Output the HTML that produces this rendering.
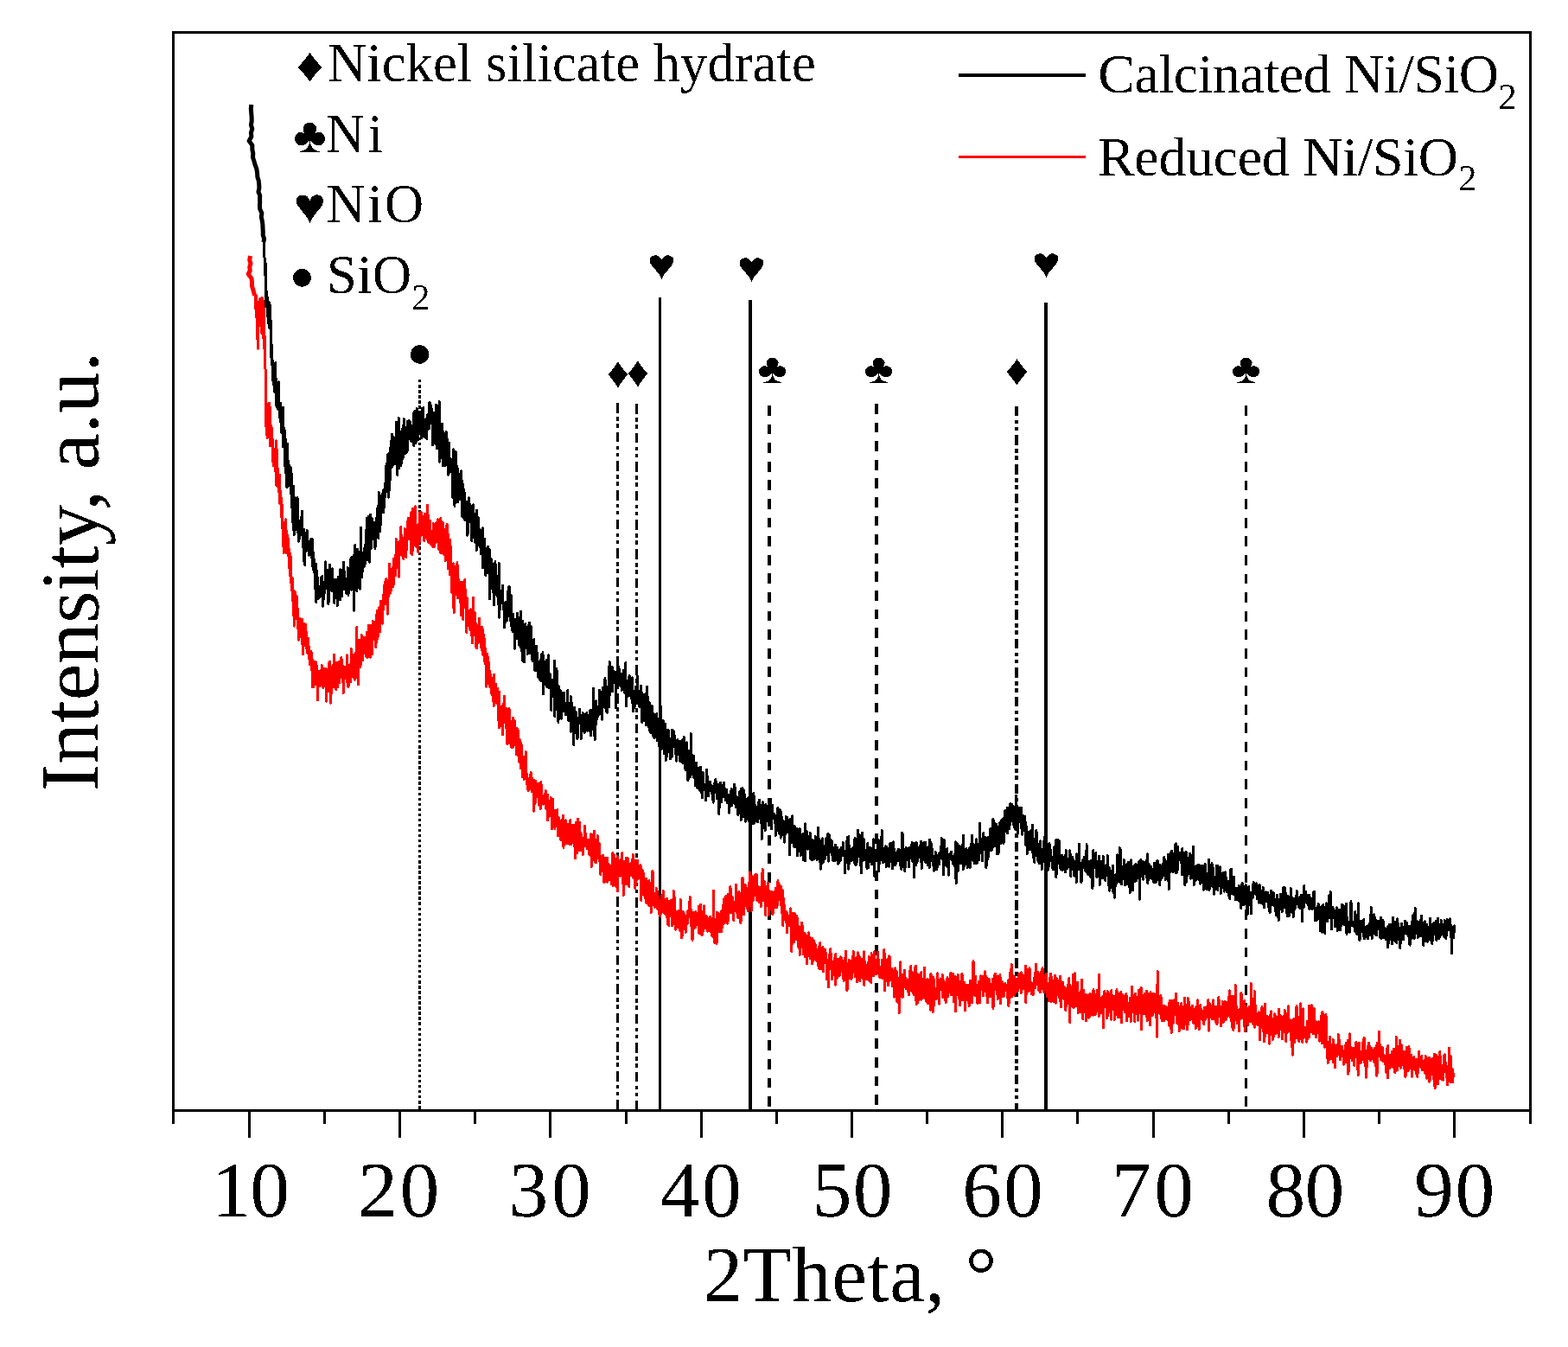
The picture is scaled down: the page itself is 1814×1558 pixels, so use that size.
<!DOCTYPE html>
<html><head><meta charset="utf-8"><title>XRD pattern</title><style>html,body{margin:0;padding:0;background:#fff;width:1814px;height:1558px;overflow:hidden}svg{display:block}</style></head><body>
<svg width="1814" height="1558" viewBox="0 0 1814 1558">
<rect width="100%" height="100%" fill="#fff"/>
<line x1="485.5" y1="439.06" x2="485.5" y2="1283" stroke="#000" stroke-width="3" stroke-dasharray="3.4 2.644" stroke-dashoffset="0" shape-rendering="crispEdges"/>
<line x1="714.5" y1="466.1" x2="714.5" y2="1283" stroke="#000" stroke-width="3" stroke-dasharray="11.6 4.4 4.5 3.5 4.5 5.1" stroke-dashoffset="0" shape-rendering="crispEdges"/>
<line x1="736.5" y1="467.0" x2="736.5" y2="1283" stroke="#000" stroke-width="3" stroke-dasharray="11.6 4.4 4.5 3.5 4.5 5.1" stroke-dashoffset="0" shape-rendering="crispEdges"/>
<line x1="1176" y1="469.8" x2="1176" y2="1283" stroke="#000" stroke-width="4" stroke-dasharray="11.6 4.4 4.5 3.5 4.5 5.1" stroke-dashoffset="0" shape-rendering="crispEdges"/>
<line x1="763.5" y1="344" x2="763.5" y2="1283" stroke="#000" stroke-width="3" shape-rendering="crispEdges"/>
<line x1="868" y1="347" x2="868" y2="1283" stroke="#000" stroke-width="4" shape-rendering="crispEdges"/>
<line x1="1210" y1="350" x2="1210" y2="1283" stroke="#000" stroke-width="4" shape-rendering="crispEdges"/>
<line x1="890" y1="469.0" x2="890" y2="1283" stroke="#000" stroke-width="4" stroke-dasharray="11.8 9.8" stroke-dashoffset="0" shape-rendering="crispEdges"/>
<line x1="1014" y1="466.9" x2="1014" y2="1283" stroke="#000" stroke-width="4" stroke-dasharray="11.8 9.8" stroke-dashoffset="0" shape-rendering="crispEdges"/>
<line x1="1441.5" y1="469.2" x2="1441.5" y2="1283" stroke="#000" stroke-width="3" stroke-dasharray="11.8 9.8" stroke-dashoffset="0" shape-rendering="crispEdges"/>
<path d="M289.6 296.0L288.7 300.5L290.0 305.0L288.7 309.0L289.3 313.0L287.2 317.0L291.0 322.0L291.5 326.5L291.5 331.0L293.2 336.5L294.6 342.0" fill="none" stroke="#ff0000" stroke-width="5" stroke-linejoin="round"/>
<path d="M294.6 342.0L294.9 342.3L295.2 342.4L295.5 345.2L295.8 357.0L296.1 341.0L296.4 360.6L296.7 366.6L297.0 353.3L297.3 353.4L297.6 372.3L297.9 386.5L298.2 403.2L298.5 391.5L298.8 398.4L299.1 369.9L299.4 362.2L299.7 349.1L300.0 354.3L300.3 362.3L300.6 367.4L300.9 345.7L301.2 372.2L301.5 359.6L301.8 352.0L302.2 349.7L302.5 385.1L302.8 360.5L303.1 346.0L303.4 344.6L303.7 380.1L304.1 352.0L304.4 381.3L304.7 390.7L305.0 348.7L305.3 402.5L305.6 388.5L305.9 383.1L306.2 395.8L306.5 415.8L306.8 419.2L307.1 429.5L307.4 438.5L307.7 487.4L308.0 494.0L308.3 499.5L308.6 490.2L308.9 502.7L309.2 506.5L309.5 490.3L309.8 493.7L310.1 491.2L310.4 492.1L310.7 497.3L311.0 466.4L311.3 485.4L311.6 497.3L311.9 466.3L312.2 476.3L312.5 515.9L312.8 484.3L313.1 493.4L313.4 505.6L313.7 496.5L314.0 493.3L314.3 499.3L314.6 502.1L314.9 502.4L315.2 514.0L315.5 533.9L315.8 520.4L316.1 538.4L316.4 529.5L316.7 532.8L317.0 531.8L317.3 522.9L317.6 534.0L317.9 534.7L318.2 519.2L318.5 544.5L318.8 544.5L319.1 543.9L319.4 533.9L319.7 509.8L320.0 562.1L320.3 544.6L320.6 520.1L320.9 556.6L321.2 541.5L321.5 560.1L321.8 551.9L322.1 568.7L322.4 559.1L322.7 561.2L323.0 561.5L323.3 577.8L323.6 549.7L323.9 583.1L324.2 580.1L324.5 567.8L324.8 577.6L325.1 575.2L325.4 584.4L325.7 598.2L326.0 581.3L326.3 601.7L326.6 607.1L326.9 606.4L327.2 620.7L327.5 603.8L327.8 615.8L328.1 639.4L328.4 611.4L328.7 611.2L329.0 614.8L329.3 623.8L329.6 611.0L329.9 617.3L330.2 600.9L330.5 611.3L330.8 613.5L331.1 613.7L331.4 624.2L331.7 639.7L332.0 628.3L332.3 618.5L332.6 639.0L332.9 639.6L333.2 622.2L333.5 642.5L333.8 629.3L334.1 636.2L334.4 636.5L334.7 656.8L335.0 638.6L335.3 646.2L335.6 653.8L335.9 665.6L336.2 669.0L336.5 644.5L336.8 674.5L337.1 667.4L337.4 681.6L337.7 683.4L338.0 668.0L338.3 678.3L338.6 677.9L338.9 689.3L339.2 708.1L339.5 691.5L339.8 684.5L340.1 724.2L340.4 683.8L340.7 697.2L341.0 698.6L341.3 685.3L341.6 711.3L341.9 716.1L342.2 704.1L342.5 707.3L342.8 706.3L343.1 688.9L343.4 713.9L343.7 697.5L344.0 702.1L344.3 719.3L344.6 726.7L344.9 706.7L345.2 731.7L345.5 740.3L345.8 722.6L346.1 720.9L346.4 725.4L346.7 719.4L347.0 715.3L347.3 734.1L347.6 736.2L347.9 723.0L348.2 725.4L348.5 724.0L348.8 724.3L349.1 721.9L349.4 716.1L349.8 745.0L350.1 730.8L350.4 736.2L350.8 757.0L351.1 730.8L351.5 743.8L351.8 721.7L352.2 730.7L352.5 746.7L352.8 736.1L353.2 722.9L353.5 722.2L353.9 744.6L354.2 730.3L354.6 749.6L354.9 746.0L355.2 740.3L355.5 744.5L355.8 755.2L356.1 748.1L356.4 738.0L356.7 754.1L357.0 747.4L357.3 750.1L357.6 760.6L357.9 759.0L358.2 768.3L358.5 755.6L358.8 753.7L359.1 756.3L359.4 765.8L359.7 753.2L360.0 759.2L360.3 754.5L360.6 756.1L360.9 763.9L361.2 794.4L361.5 763.2L361.8 771.4L362.1 770.4L362.4 768.2L362.7 771.4L363.0 794.2L363.3 769.8L363.6 791.9L363.9 781.8L364.2 765.4L364.5 768.8L364.8 771.8L365.1 765.5L365.4 791.8L365.7 784.3L366.0 786.4L366.3 769.4L366.7 786.7L367.1 775.6L367.5 809.5L367.9 781.3L368.2 785.8L368.6 787.6L369.0 777.8L369.4 779.1L369.8 779.4L370.2 793.8L370.6 776.2L371.0 782.9L371.4 788.7L371.8 780.3L372.2 769.5L372.7 771.4L373.1 780.1L373.6 773.8L374.0 795.6L374.4 784.8L374.9 784.3L375.3 773.1L375.8 790.4L376.2 780.4L376.6 773.6L377.1 777.1L377.5 811.1L378.0 777.3L378.4 774.4L378.9 797.1L379.3 792.4L379.7 780.8L380.2 799.5L380.6 767.4L381.1 778.5L381.5 765.5L381.9 799.4L382.4 784.5L382.8 813.2L383.3 789.3L383.7 789.5L384.1 771.4L384.6 770.8L385.0 778.7L385.5 794.3L385.9 772.4L386.3 757.3L386.8 793.7L387.2 794.4L387.7 773.8L388.1 789.0L388.5 796.7L389.0 797.3L389.4 766.5L389.9 784.8L390.3 775.4L390.7 794.7L391.1 784.6L391.6 769.7L392.0 784.3L392.4 789.5L392.8 765.1L393.2 767.0L393.6 774.4L394.0 778.4L394.4 775.2L394.8 760.6L395.2 763.4L395.6 780.4L396.0 785.3L396.4 770.4L396.8 782.1L397.3 801.3L397.7 777.5L398.1 774.7L398.5 771.5L398.9 784.7L399.3 781.8L399.7 781.8L400.1 774.1L400.4 782.5L400.8 781.9L401.1 775.0L401.4 789.2L401.7 757.8L402.1 783.0L402.4 772.9L402.7 783.3L403.0 794.8L403.4 773.1L403.7 769.8L404.0 771.1L404.3 786.6L404.6 787.8L405.0 771.5L405.3 776.4L405.6 789.0L405.9 774.0L406.3 750.4L406.7 757.9L407.0 761.4L407.4 771.1L407.8 759.8L408.2 781.8L408.5 760.2L408.9 783.3L409.3 757.5L409.7 780.1L410.1 766.5L410.4 780.3L410.8 786.2L411.2 783.5L411.6 775.1L412.0 754.2L412.3 753.1L412.7 725.5L413.1 778.6L413.4 775.8L413.8 772.6L414.2 747.3L414.5 791.7L414.9 751.8L415.2 769.1L415.6 740.0L416.0 751.2L416.3 772.0L416.7 769.3L417.0 744.4L417.4 755.5L417.8 769.0L418.1 734.2L418.4 763.8L418.8 736.4L419.1 761.1L419.5 750.2L419.8 764.0L420.1 746.0L420.5 747.3L420.8 746.6L421.1 739.0L421.5 746.2L421.8 737.0L422.2 741.7L422.5 755.5L422.8 743.3L423.2 758.9L423.5 754.1L423.8 755.0L424.2 731.5L424.5 749.0L424.9 760.4L425.2 753.6L425.5 756.8L425.9 759.7L426.2 723.7L426.5 747.5L426.9 746.7L427.2 737.4L427.6 723.8L427.9 740.3L428.2 736.1L428.6 760.2L428.9 752.2L429.2 731.5L429.6 723.4L429.9 725.3L430.3 733.9L430.6 725.4L430.9 756.4L431.2 718.7L431.6 731.0L431.9 733.1L432.2 735.7L432.5 719.3L432.8 726.9L433.2 731.1L433.5 732.2L433.8 720.9L434.1 723.5L434.5 729.0L434.8 748.3L435.1 711.1L435.4 732.8L435.8 742.4L436.1 706.5L436.4 738.9L436.7 737.6L437.0 720.9L437.3 730.5L437.6 735.6L437.9 715.5L438.2 719.1L438.5 702.9L438.8 706.4L439.1 714.4L439.4 711.6L439.7 730.7L440.0 708.1L440.3 695.5L440.6 719.3L440.9 718.7L441.2 711.7L441.5 704.4L441.8 695.8L442.1 696.6L442.4 721.2L442.7 711.5L443.0 702.6L443.3 705.4L443.6 695.4L443.9 687.7L444.2 692.0L444.5 696.0L444.8 676.3L445.1 677.6L445.4 673.3L445.7 687.3L446.0 698.9L446.3 674.8L446.6 676.1L446.9 669.6L447.2 682.0L447.5 672.4L447.8 673.6L448.1 671.5L448.4 710.2L448.7 681.5L449.0 673.7L449.3 675.0L449.6 689.5L449.9 689.6L450.2 680.1L450.5 652.5L450.8 686.4L451.1 686.3L451.4 681.7L451.7 677.0L452.0 671.2L452.3 683.5L452.6 664.7L452.9 679.7L453.2 660.7L453.5 660.8L453.8 659.2L454.1 656.8L454.4 656.6L454.7 670.5L455.0 679.1L455.3 651.1L455.6 646.2L455.9 672.5L456.2 652.6L456.5 658.9L456.8 656.4L457.1 664.5L457.4 642.1L457.7 665.4L458.0 660.2L458.3 623.5L458.6 646.8L458.9 643.2L459.2 651.3L459.5 645.0L459.8 635.8L460.1 639.7L460.4 647.0L460.7 642.4L461.0 639.4L461.3 667.2L461.6 646.4L462.0 626.1L462.3 640.3L462.6 642.2L462.9 625.8L463.3 638.4L463.6 626.3L463.9 609.2L464.3 639.3L464.6 642.1L464.9 641.4L465.2 631.6L465.6 625.7L465.9 635.0L466.2 636.7L466.6 642.0L466.9 646.4L467.2 639.5L467.5 622.2L467.9 627.9L468.2 611.1L468.5 636.0L468.9 633.7L469.2 640.5L469.5 631.7L469.9 644.4L470.3 616.9L470.7 628.9L471.0 621.6L471.4 621.6L471.8 602.7L472.2 614.6L472.6 599.3L473.0 618.8L473.3 614.0L473.7 623.6L474.1 599.8L474.5 615.0L474.9 617.8L475.3 592.8L475.6 639.7L476.0 625.5L476.4 610.2L476.8 641.6L477.2 634.9L477.6 588.6L477.9 614.4L478.3 610.1L478.7 617.8L479.1 605.5L479.5 613.4L479.9 617.1L480.2 585.8L480.6 617.0L481.0 631.9L481.4 616.1L481.7 627.9L482.1 632.7L482.4 616.7L482.8 617.5L483.1 617.2L483.5 606.7L483.8 638.8L484.2 616.3L484.5 617.3L484.9 621.6L485.2 627.4L485.6 592.7L485.9 596.2L486.3 609.8L486.6 614.6L487.0 594.2L487.3 592.7L487.7 619.1L488.0 619.0L488.4 607.3L488.7 607.7L489.1 604.0L489.4 597.9L489.8 602.0L490.1 615.0L490.5 611.2L490.8 625.6L491.2 598.4L491.5 594.3L491.9 622.2L492.2 604.2L492.6 612.0L493.0 616.4L493.4 601.1L493.8 598.0L494.2 620.0L494.6 584.2L495.0 624.7L495.3 596.0L495.7 627.5L496.1 621.8L496.5 621.1L496.9 624.5L497.3 620.6L497.7 602.6L498.1 629.4L498.5 621.3L498.9 625.7L499.3 618.8L499.7 617.6L500.1 632.1L500.4 632.0L500.8 623.1L501.2 605.5L501.6 608.4L502.0 607.1L502.3 632.5L502.7 624.8L503.1 619.3L503.5 616.4L503.8 609.0L504.2 627.4L504.6 604.7L505.0 606.7L505.4 626.8L505.7 623.9L506.1 615.2L506.5 600.8L506.9 601.2L507.2 627.1L507.6 621.8L508.0 635.6L508.4 612.5L508.7 617.6L509.1 607.6L509.5 639.2L509.9 599.4L510.2 627.5L510.6 639.9L511.0 609.3L511.4 603.8L511.8 609.4L512.1 604.7L512.5 626.5L512.9 621.5L513.3 612.0L513.6 620.0L514.0 642.0L514.4 621.1L514.8 619.7L515.1 648.3L515.5 614.5L515.8 621.0L516.1 645.8L516.4 629.9L516.7 607.8L517.0 621.8L517.3 606.5L517.6 627.2L517.9 640.2L518.2 617.9L518.5 657.6L518.8 655.7L519.1 651.6L519.4 634.6L519.7 645.2L520.0 652.9L520.3 659.2L520.6 664.5L520.9 624.5L521.2 643.4L521.5 639.4L521.8 650.7L522.1 658.7L522.4 685.2L522.7 657.9L523.0 671.4L523.3 663.2L523.6 662.9L523.9 685.3L524.2 651.9L524.5 674.2L524.8 691.9L525.1 709.0L525.4 662.6L525.7 658.4L526.0 655.4L526.3 666.4L526.6 672.2L526.9 673.2L527.2 687.5L527.5 671.0L527.8 679.5L528.1 656.7L528.4 669.4L528.7 676.4L529.0 650.7L529.3 681.4L529.6 691.4L529.9 682.6L530.2 685.1L530.5 683.4L530.8 670.0L531.1 685.7L531.4 679.3L531.7 688.0L532.0 688.6L532.3 690.1L532.6 673.6L532.9 689.3L533.2 711.6L533.5 702.6L533.9 689.3L534.2 684.1L534.5 705.3L534.8 694.1L535.1 673.6L535.4 690.2L535.7 716.3L536.0 676.7L536.3 698.3L536.6 689.2L537.0 698.0L537.3 694.5L537.6 689.7L537.9 670.1L538.2 698.9L538.5 702.5L538.8 701.2L539.1 690.8L539.4 696.8L539.7 731.3L540.1 692.1L540.4 702.3L540.7 692.0L541.0 705.0L541.3 711.3L541.6 723.5L541.9 712.4L542.2 710.5L542.5 715.5L542.8 718.7L543.2 712.2L543.5 713.1L543.8 728.6L544.1 706.1L544.4 714.3L544.7 704.9L545.1 710.3L545.4 734.7L545.7 709.3L546.1 724.3L546.4 743.9L546.7 725.7L547.0 718.1L547.4 711.4L547.7 691.0L548.0 710.5L548.4 711.4L548.7 734.3L549.0 731.8L549.3 708.8L549.7 732.1L550.0 717.8L550.3 747.6L550.7 744.1L551.0 735.2L551.3 723.3L551.6 749.6L552.0 739.8L552.3 743.8L552.6 737.2L553.0 728.5L553.3 741.6L553.6 723.2L553.9 743.0L554.3 736.4L554.6 715.3L554.9 741.2L555.3 735.6L555.6 732.8L555.9 737.5L556.2 748.9L556.5 727.4L556.8 729.3L557.1 751.8L557.4 746.5L557.7 725.1L558.0 748.0L558.3 727.8L558.6 757.1L558.9 753.4L559.2 756.9L559.5 734.3L559.8 744.2L560.1 764.7L560.4 739.2L560.7 762.9L561.0 755.4L561.3 760.8L561.6 750.6L561.9 768.4L562.2 767.2L562.5 773.8L562.8 794.1L563.1 763.8L563.4 768.4L563.7 756.5L564.0 790.4L564.3 767.1L564.6 781.5L564.9 760.4L565.2 772.0L565.5 783.2L565.8 783.0L566.1 775.4L566.4 790.4L566.7 782.5L567.0 794.7L567.3 780.9L567.6 792.5L567.9 780.7L568.2 802.2L568.5 788.6L568.8 790.5L569.1 784.4L569.4 804.0L569.7 795.3L570.0 792.1L570.3 811.1L570.6 788.2L570.9 809.6L571.2 816.7L571.5 780.6L571.8 812.1L572.1 809.1L572.4 806.3L572.7 808.9L573.0 791.5L573.3 812.2L573.6 809.9L573.9 790.9L574.2 806.6L574.5 795.7L574.8 811.6L575.1 801.0L575.4 813.3L575.7 796.4L576.0 807.5L576.3 809.7L576.6 812.8L576.9 829.2L577.2 842.0L577.5 800.3L577.8 828.2L578.1 816.3L578.4 817.0L578.7 817.6L579.0 820.3L579.3 821.9L579.6 833.3L579.9 839.2L580.2 829.6L580.5 826.9L580.8 833.8L581.1 832.7L581.4 849.6L581.7 818.9L582.0 814.8L582.3 828.3L582.6 835.5L582.9 830.4L583.2 836.1L583.5 805.1L583.8 826.3L584.1 828.1L584.4 820.8L584.8 829.5L585.1 834.1L585.5 841.6L585.8 827.1L586.2 819.3L586.5 843.0L586.9 860.6L587.2 841.1L587.6 841.2L587.9 829.2L588.3 843.2L588.6 859.1L589.0 819.8L589.3 853.7L589.7 820.9L590.0 860.1L590.4 853.2L590.7 841.0L591.1 848.2L591.4 864.2L591.8 834.1L592.1 859.9L592.5 853.8L592.9 847.8L593.2 864.5L593.6 830.4L593.9 848.0L594.3 836.5L594.6 849.8L595.0 856.8L595.3 833.4L595.7 855.0L596.0 855.5L596.4 846.3L596.7 852.4L597.1 866.0L597.4 857.8L597.8 873.0L598.1 843.6L598.5 842.6L598.8 871.1L599.1 844.1L599.4 873.9L599.7 861.4L600.0 870.3L600.3 860.2L600.6 876.9L600.9 881.4L601.2 881.4L601.5 874.7L601.8 855.8L602.1 882.5L602.4 874.2L602.7 889.0L603.0 858.9L603.3 881.8L603.6 873.3L603.9 879.1L604.2 890.3L604.5 891.0L604.8 899.0L605.1 889.6L605.4 891.8L605.7 890.6L606.0 875.7L606.3 901.4L606.6 881.8L606.9 886.4L607.2 898.1L607.5 887.2L607.8 890.7L608.1 869.7L608.4 888.6L608.7 887.1L609.0 893.1L609.3 906.3L609.7 897.9L610.1 899.8L610.4 902.9L610.8 913.3L611.1 914.5L611.5 907.8L611.9 901.0L612.2 913.9L612.6 901.4L612.9 903.1L613.3 908.9L613.7 900.7L614.0 894.6L614.4 893.5L614.7 904.1L615.1 910.3L615.5 915.4L615.8 900.4L616.2 911.7L616.6 910.2L616.9 905.5L617.3 938.2L617.6 903.4L618.0 902.8L618.4 913.9L618.7 929.6L619.1 909.3L619.5 928.1L619.8 903.1L620.2 910.2L620.6 912.8L621.0 912.5L621.4 916.3L621.7 915.0L622.1 914.4L622.5 906.3L622.9 922.8L623.2 918.4L623.6 921.0L624.0 931.5L624.4 924.7L624.7 922.3L625.1 935.3L625.5 915.8L625.9 904.2L626.2 915.2L626.6 908.6L627.0 919.4L627.4 920.0L627.7 922.1L628.1 926.2L628.5 930.3L628.9 928.5L629.2 925.9L629.6 921.4L630.0 919.7L630.4 925.1L630.8 922.9L631.1 914.8L631.4 922.5L631.7 934.8L632.0 928.7L632.3 920.0L632.7 931.9L633.0 936.6L633.3 919.3L633.6 948.8L633.9 944.1L634.3 931.1L634.6 945.1L634.9 936.9L635.2 941.4L635.5 926.3L635.9 931.1L636.2 934.4L636.5 936.4L636.8 933.0L637.1 922.2L637.5 927.7L637.8 944.4L638.1 936.4L638.4 958.5L638.7 955.8L639.1 940.0L639.4 945.1L639.7 924.6L640.0 951.5L640.3 956.3L640.7 937.5L641.0 937.9L641.3 940.6L641.7 954.5L642.0 958.3L642.4 937.9L642.7 944.6L643.1 954.6L643.4 951.9L643.7 947.1L644.1 956.1L644.4 941.9L644.8 936.5L645.1 958.7L645.5 960.5L645.8 967.0L646.1 950.9L646.5 945.9L646.8 955.9L647.2 954.9L647.5 956.9L647.9 955.9L648.2 971.0L648.5 961.0L648.9 972.1L649.2 951.6L649.6 949.1L649.9 969.4L650.3 948.0L650.6 949.2L651.0 949.9L651.3 943.1L651.6 967.3L652.0 980.2L652.3 969.3L652.7 972.6L653.0 960.6L653.4 954.4L653.9 969.8L654.3 952.5L654.7 948.8L655.2 955.7L655.6 975.5L656.0 968.5L656.4 962.2L656.9 953.7L657.3 955.1L657.7 968.3L658.2 964.2L658.6 957.1L659.0 976.9L659.4 958.5L659.9 948.6L660.3 962.7L660.7 976.4L661.2 972.7L661.6 975.1L662.0 957.2L662.4 970.2L662.9 967.1L663.3 963.3L663.7 954.1L664.2 978.7L664.6 967.1L665.0 960.5L665.4 974.2L665.8 993.0L666.2 951.6L666.6 970.0L667.0 986.4L667.3 986.9L667.7 957.5L668.1 963.0L668.5 947.5L668.9 968.6L669.3 953.0L669.7 958.3L670.0 984.1L670.4 957.3L670.8 951.6L671.2 970.7L671.6 973.1L672.0 973.8L672.4 984.0L672.8 965.0L673.1 971.2L673.5 979.7L673.9 969.1L674.3 988.3L674.7 984.4L675.1 974.9L675.5 973.1L675.8 975.7L676.2 979.0L676.6 955.4L677.0 962.7L677.4 968.3L677.8 968.0L678.1 970.5L678.5 971.1L678.9 978.5L679.3 974.6L679.6 981.9L680.0 981.9L680.4 978.4L680.8 974.9L681.2 971.8L681.5 987.9L681.9 975.4L682.3 982.7L682.7 989.1L683.0 983.2L683.4 964.8L683.8 973.6L684.2 1002.3L684.5 965.1L684.9 995.3L685.3 971.2L685.7 983.8L686.0 994.3L686.4 973.0L686.8 994.2L687.2 961.0L687.5 982.7L687.9 978.0L688.3 989.2L688.7 993.4L689.0 998.0L689.4 997.9L689.8 982.4L690.1 977.8L690.4 992.3L690.7 982.8L691.1 966.9L691.4 966.7L691.7 985.4L692.1 986.1L692.4 991.7L692.7 993.5L693.1 975.3L693.4 995.6L693.7 981.1L694.1 998.2L694.4 994.1L694.7 1011.3L695.0 999.3L695.4 990.5L695.7 994.1L696.0 997.8L696.4 1003.9L696.7 1006.6L697.0 990.2L697.4 989.4L697.7 1008.4L698.0 1001.5L698.4 1013.1L698.7 1007.8L699.0 1021.0L699.3 1010.8L699.7 992.1L700.0 1001.0L700.3 1011.8L700.7 995.7L701.0 1007.4L701.3 1014.9L701.7 1019.8L702.1 1017.2L702.5 992.5L702.9 1020.2L703.4 998.8L703.8 1008.8L704.2 999.4L704.7 1017.6L705.1 1007.2L705.5 1010.3L705.9 1012.3L706.4 1007.0L706.8 1001.1L707.2 1022.4L707.7 1013.7L708.1 1015.5L708.5 989.3L709.0 986.7L709.4 1024.4L709.8 1014.4L710.2 988.7L710.7 1011.1L711.1 1007.5L711.5 996.3L712.0 1002.0L712.4 1025.1L712.8 998.7L713.2 1011.0L713.7 997.6L714.1 990.2L714.5 1031.0L715.0 1013.1L715.4 1001.3L715.8 1002.5L716.2 1003.6L716.7 995.6L717.1 1011.1L717.5 1013.1L718.0 1002.3L718.4 1006.2L718.8 993.4L719.2 1009.5L719.7 986.6L720.1 1006.0L720.5 1022.1L721.0 1004.3L721.4 1035.3L721.8 996.2L722.2 1005.0L722.7 1007.5L723.1 1017.3L723.5 1020.3L724.0 1009.9L724.4 992.6L724.8 1023.0L725.3 1015.2L725.7 1016.8L726.1 992.2L726.5 1013.3L727.0 1006.5L727.4 1018.0L727.8 1025.8L728.3 999.2L728.7 1006.7L729.1 1008.0L729.5 999.6L730.0 1013.0L730.4 1012.5L730.8 998.1L731.3 998.3L731.7 1009.6L732.1 988.7L732.5 1010.0L733.0 1015.4L733.4 1015.3L733.8 996.9L734.3 1024.7L734.7 1027.5L735.1 994.9L735.5 1023.9L736.0 1019.7L736.4 1015.5L736.8 998.6L737.3 1016.7L737.7 995.1L738.1 1007.1L738.4 1015.7L738.8 1013.4L739.1 1006.1L739.4 1013.5L739.7 1009.2L740.0 1014.1L740.3 1004.2L740.7 1000.7L741.0 1007.7L741.3 1001.5L741.6 1026.0L741.9 1041.5L742.3 1022.9L742.6 1028.5L742.9 1006.7L743.2 1016.6L743.5 1007.4L743.9 1025.8L744.2 1021.1L744.5 1010.5L744.8 1035.5L745.1 1021.6L745.5 1030.4L745.8 1032.3L746.1 1038.2L746.4 1037.4L746.7 1025.5L747.1 1023.5L747.4 1019.9L747.7 1016.3L748.0 1045.0L748.3 1022.2L748.6 1042.5L749.0 1020.3L749.3 1022.3L749.6 1039.7L749.9 1028.8L750.2 1022.9L750.6 1047.3L750.9 1018.8L751.3 1023.8L751.7 1039.0L752.0 1047.6L752.4 1032.8L752.8 1024.9L753.1 1055.8L753.5 1034.1L753.9 1028.1L754.2 1035.9L754.6 1046.9L755.0 1007.5L755.3 1025.5L755.7 1043.5L756.1 1042.2L756.4 1037.8L756.8 1036.2L757.2 1043.9L757.5 1049.3L757.9 1033.4L758.3 1035.2L758.6 1047.5L759.0 1037.0L759.4 1027.7L759.7 1039.3L760.1 1030.6L760.5 1048.1L760.8 1051.2L761.2 1036.7L761.6 1042.3L761.9 1047.6L762.3 1057.0L762.7 1055.0L763.1 1048.1L763.5 1049.3L763.9 1059.6L764.3 1053.1L764.7 1052.1L765.1 1036.6L765.5 1049.5L765.9 1052.2L766.3 1048.9L766.8 1038.1L767.2 1030.7L767.6 1054.8L768.0 1055.2L768.4 1050.6L768.8 1040.7L769.2 1045.1L769.6 1049.2L770.0 1057.5L770.4 1051.3L770.9 1042.6L771.3 1045.8L771.7 1039.4L772.1 1069.1L772.5 1044.5L772.9 1066.0L773.3 1054.8L773.7 1070.3L774.1 1042.0L774.5 1060.2L775.0 1044.2L775.4 1044.7L775.7 1046.4L776.1 1040.9L776.5 1045.2L776.9 1051.7L777.3 1070.7L777.7 1050.4L778.1 1039.9L778.5 1061.3L778.9 1069.0L779.3 1030.5L779.7 1060.5L780.1 1042.3L780.5 1038.0L780.9 1062.9L781.3 1071.2L781.7 1075.3L782.1 1057.8L782.5 1054.1L782.9 1059.9L783.3 1064.4L783.7 1067.7L784.1 1072.8L784.5 1063.7L784.9 1065.9L785.3 1062.6L785.7 1053.2L786.1 1065.3L786.5 1075.9L786.9 1069.0L787.3 1040.4L787.7 1077.2L788.1 1053.6L788.6 1084.9L789.0 1083.7L789.4 1069.4L789.8 1081.2L790.2 1054.7L790.6 1061.0L791.0 1056.1L791.5 1066.7L791.9 1063.8L792.3 1065.6L792.7 1064.6L793.1 1078.3L793.5 1063.7L794.0 1059.4L794.4 1064.9L794.8 1068.6L795.2 1068.3L795.6 1053.8L796.0 1059.1L796.5 1061.0L796.9 1054.8L797.3 1048.0L797.7 1057.9L798.1 1037.7L798.6 1061.1L799.0 1051.2L799.4 1060.9L799.8 1062.9L800.3 1083.5L800.7 1084.6L801.1 1087.2L801.5 1066.0L802.0 1060.3L802.4 1073.8L802.8 1055.0L803.2 1064.6L803.7 1057.8L804.1 1064.9L804.5 1072.9L805.0 1054.3L805.4 1067.7L805.8 1066.8L806.3 1067.1L806.7 1069.7L807.1 1060.7L807.6 1063.7L808.0 1060.8L808.4 1048.7L808.9 1079.3L809.3 1071.2L809.7 1070.9L810.2 1057.4L810.6 1046.2L811.0 1066.6L811.5 1054.6L811.9 1081.8L812.3 1081.1L812.8 1058.3L813.2 1077.0L813.6 1070.7L814.1 1062.7L814.5 1048.0L814.9 1070.1L815.3 1073.1L815.7 1073.7L816.1 1059.5L816.5 1065.6L817.0 1066.0L817.4 1066.1L817.8 1059.8L818.2 1077.1L818.6 1072.3L819.0 1062.8L819.4 1071.3L819.8 1077.0L820.2 1070.9L820.7 1070.8L821.1 1075.6L821.5 1060.3L821.9 1075.2L822.3 1061.7L822.7 1070.7L823.1 1081.3L823.5 1064.5L823.9 1081.0L824.4 1076.2L824.8 1083.4L825.2 1054.4L825.6 1030.0L826.0 1059.7L826.4 1090.1L826.9 1072.2L827.3 1066.5L827.7 1069.3L828.1 1073.5L828.5 1067.1L829.0 1092.1L829.4 1069.8L829.8 1055.1L830.2 1055.3L830.6 1066.9L831.1 1067.9L831.5 1076.1L831.9 1077.2L832.3 1077.8L832.8 1057.0L833.2 1071.2L833.5 1059.6L833.8 1067.4L834.1 1054.4L834.5 1077.7L834.8 1077.8L835.1 1066.6L835.5 1052.9L835.8 1072.5L836.1 1064.2L836.4 1046.9L836.8 1066.5L837.1 1068.2L837.4 1063.6L837.7 1039.9L838.1 1064.4L838.4 1066.4L838.7 1050.0L839.0 1066.4L839.4 1059.9L839.7 1064.0L840.0 1035.9L840.3 1049.9L840.7 1057.1L841.0 1036.3L841.3 1052.0L841.6 1068.1L842.1 1034.7L842.5 1064.6L842.9 1059.2L843.3 1040.8L843.7 1041.5L844.2 1040.6L844.6 1052.6L845.0 1025.3L845.4 1055.8L845.8 1033.2L846.2 1044.8L846.7 1043.9L847.1 1056.0L847.5 1037.8L847.9 1039.3L848.3 1059.8L848.8 1064.3L849.2 1046.7L849.6 1043.4L850.0 1049.4L850.4 1047.3L850.8 1046.5L851.3 1036.0L851.7 1023.2L852.1 1048.2L852.5 1044.9L852.9 1056.9L853.3 1056.4L853.7 1061.6L854.1 1039.3L854.5 1051.7L854.9 1031.1L855.3 1046.4L855.7 1048.6L856.1 1035.7L856.6 1041.8L857.0 1067.9L857.4 1033.7L857.8 1053.0L858.2 1038.2L858.6 1051.1L859.0 1014.9L859.4 1027.7L859.8 1038.5L860.2 1058.0L860.6 1038.9L861.0 1027.5L861.4 1035.5L861.8 1047.8L862.2 1023.6L862.6 1039.9L863.0 1036.8L863.3 1034.1L863.7 1042.0L864.0 1029.6L864.4 1042.9L864.7 1043.1L865.1 1054.0L865.4 1039.2L865.8 1034.6L866.1 1023.3L866.5 1028.8L866.8 1020.4L867.2 1047.7L867.5 1008.9L867.9 1036.9L868.3 1036.9L868.6 1038.4L869.0 1026.5L869.3 1053.6L869.7 1026.7L870.0 1013.1L870.4 1022.2L870.7 1020.9L871.1 1041.6L871.4 1027.2L871.8 1017.5L872.1 1017.0L872.5 1024.6L872.8 1020.8L873.2 1024.1L873.5 1035.9L873.9 1011.4L874.3 1019.1L874.7 1028.9L875.1 1011.3L875.5 1033.9L875.9 1042.0L876.2 1029.5L876.6 1037.2L877.0 1025.5L877.4 1029.7L877.8 1032.8L878.2 1029.9L878.6 1043.4L879.0 1026.3L879.4 1040.8L879.8 1027.3L880.2 1048.5L880.6 1046.8L880.9 1036.4L881.3 1018.6L881.7 1024.0L882.1 1005.5L882.5 1042.0L882.9 1028.6L883.3 1025.8L883.7 1034.1L884.1 1019.0L884.5 1029.3L884.9 1036.4L885.3 1044.9L885.7 1058.5L886.1 1027.0L886.5 1045.4L886.9 1029.6L887.2 1025.4L887.6 1040.3L888.0 1036.1L888.4 1021.1L888.8 1036.8L889.2 1058.2L889.6 1030.0L890.0 1030.3L890.4 1051.6L890.8 1041.7L891.2 1031.6L891.6 1044.8L892.0 1034.6L892.4 1032.2L892.8 1044.7L893.2 1031.6L893.6 1049.3L894.0 1058.0L894.4 1034.7L894.8 1033.9L895.2 1033.1L895.6 1039.9L896.0 1031.5L896.3 1040.4L896.7 1047.3L897.1 1027.1L897.4 1040.5L897.8 1049.9L898.2 1046.2L898.6 1027.4L898.9 1049.9L899.3 1026.1L899.7 1046.4L900.0 1018.7L900.4 1041.4L900.8 1031.4L901.1 1030.7L901.5 1029.6L901.9 1023.1L902.3 1037.7L902.6 1034.1L903.0 1041.3L903.3 1025.2L903.6 1042.9L903.9 1047.2L904.2 1028.5L904.5 1052.4L904.8 1056.7L905.1 1029.5L905.4 1033.6L905.7 1070.5L906.0 1049.8L906.3 1046.2L906.6 1039.2L906.9 1057.2L907.2 1046.9L907.5 1057.1L907.8 1056.4L908.1 1060.5L908.4 1063.9L908.7 1055.3L909.0 1064.4L909.3 1066.8L909.7 1058.4L910.0 1054.1L910.3 1064.9L910.7 1078.9L911.0 1061.2L911.4 1058.8L911.7 1067.3L912.1 1059.9L912.4 1066.0L912.8 1065.4L913.1 1060.3L913.4 1070.3L913.8 1058.3L914.1 1059.9L914.5 1050.7L914.8 1060.3L915.2 1071.1L915.5 1081.4L915.9 1101.0L916.2 1069.0L916.5 1066.1L916.9 1091.3L917.2 1056.7L917.6 1081.2L917.9 1075.6L918.3 1089.7L918.6 1071.3L919.0 1075.6L919.3 1056.7L919.7 1068.1L920.1 1074.4L920.4 1069.4L920.8 1068.2L921.1 1086.7L921.5 1061.2L921.8 1059.5L922.2 1061.7L922.5 1069.6L922.9 1067.6L923.3 1074.5L923.6 1070.8L924.0 1096.4L924.3 1071.7L924.7 1077.7L925.0 1085.8L925.4 1104.3L925.8 1079.5L926.1 1076.1L926.5 1092.4L926.8 1078.5L927.2 1067.2L927.5 1067.9L927.9 1079.6L928.2 1070.6L928.6 1096.3L929.0 1090.1L929.3 1103.5L929.7 1089.1L930.0 1083.9L930.4 1094.9L930.8 1095.1L931.1 1079.5L931.5 1106.7L931.9 1091.9L932.2 1098.8L932.6 1085.4L932.9 1101.9L933.3 1114.8L933.7 1090.7L934.0 1082.8L934.4 1094.9L934.7 1095.3L935.1 1101.1L935.5 1078.7L935.8 1105.7L936.2 1098.6L936.6 1093.2L936.9 1084.1L937.3 1099.2L937.6 1108.5L938.0 1102.7L938.4 1103.1L938.7 1099.3L939.1 1102.1L939.5 1085.6L939.8 1115.0L940.2 1110.8L940.6 1098.0L940.9 1101.6L941.3 1087.3L941.7 1093.0L942.1 1106.4L942.4 1095.4L942.8 1091.4L943.2 1100.0L943.6 1109.7L943.9 1093.1L944.3 1109.0L944.7 1110.6L945.0 1111.5L945.4 1110.9L945.8 1106.7L946.2 1103.4L946.5 1116.6L946.9 1097.8L947.3 1120.1L947.7 1094.9L948.0 1105.8L948.4 1111.0L948.8 1090.7L949.1 1114.6L949.5 1120.9L949.9 1099.0L950.3 1108.2L950.7 1118.6L951.1 1118.4L951.5 1121.2L951.9 1095.3L952.3 1109.4L952.7 1123.9L953.1 1097.1L953.5 1099.5L953.9 1111.1L954.3 1111.5L954.8 1098.2L955.2 1102.8L955.6 1111.7L956.0 1114.5L956.4 1132.3L956.8 1123.5L957.2 1116.9L957.6 1114.4L958.0 1122.5L958.4 1142.0L958.8 1112.2L959.2 1107.0L959.6 1103.9L960.0 1116.4L960.4 1104.7L960.8 1097.2L961.3 1108.6L961.7 1108.5L962.1 1126.2L962.6 1132.6L963.0 1112.3L963.4 1112.2L963.9 1127.9L964.3 1117.4L964.7 1113.6L965.2 1126.1L965.6 1108.3L966.0 1124.5L966.5 1139.2L966.9 1103.4L967.4 1122.7L967.8 1115.9L968.2 1131.3L968.7 1128.3L969.1 1109.8L969.5 1116.8L970.0 1109.6L970.4 1128.8L970.8 1109.4L971.2 1117.4L971.7 1127.6L972.1 1113.8L972.5 1107.6L972.9 1106.9L973.3 1108.3L973.7 1116.9L974.2 1115.7L974.6 1123.5L975.0 1118.5L975.4 1131.5L975.8 1127.4L976.3 1134.4L976.7 1114.3L977.1 1108.5L977.5 1134.0L977.9 1125.0L978.4 1100.2L978.8 1115.5L979.2 1125.9L979.6 1133.9L980.0 1145.6L980.4 1133.5L980.9 1125.1L981.3 1117.9L981.7 1113.7L982.1 1115.2L982.5 1110.7L983.0 1121.3L983.4 1132.0L983.8 1126.4L984.2 1111.3L984.6 1128.0L985.0 1132.2L985.5 1119.5L985.9 1118.2L986.3 1120.7L986.7 1125.1L987.1 1100.4L987.6 1111.1L988.0 1106.4L988.4 1119.8L988.8 1124.2L989.2 1113.7L989.6 1129.5L990.1 1120.8L990.5 1121.6L990.9 1119.6L991.3 1106.9L991.7 1135.6L992.2 1120.5L992.6 1101.9L993.1 1124.4L993.5 1127.3L994.0 1105.6L994.4 1119.5L994.9 1134.4L995.3 1124.2L995.8 1119.9L996.2 1119.2L996.7 1123.2L997.1 1108.9L997.6 1114.6L998.0 1121.9L998.5 1118.8L998.9 1132.2L999.4 1100.8L999.8 1139.6L1000.3 1114.1L1000.7 1112.2L1001.2 1118.2L1001.6 1129.4L1002.1 1116.6L1002.5 1132.5L1003.0 1130.7L1003.4 1119.9L1003.9 1117.8L1004.3 1118.1L1004.7 1122.4L1005.2 1106.1L1005.6 1134.3L1006.0 1121.3L1006.4 1123.4L1006.8 1114.6L1007.3 1115.1L1007.7 1136.5L1008.1 1102.8L1008.5 1124.3L1008.9 1114.3L1009.4 1105.5L1009.8 1129.0L1010.2 1113.4L1010.6 1129.0L1011.0 1118.5L1011.5 1100.9L1011.9 1121.0L1012.3 1110.3L1012.7 1119.6L1013.1 1118.8L1013.6 1126.4L1014.0 1123.0L1014.4 1119.3L1014.8 1116.1L1015.2 1107.8L1015.7 1101.4L1016.1 1124.3L1016.6 1110.0L1017.0 1117.2L1017.5 1128.7L1017.9 1130.6L1018.4 1130.7L1018.8 1124.0L1019.3 1126.7L1019.7 1126.4L1020.2 1125.0L1020.6 1110.5L1021.1 1125.1L1021.5 1131.5L1022.0 1121.8L1022.4 1123.5L1022.9 1097.9L1023.3 1112.2L1023.8 1146.0L1024.2 1112.2L1024.7 1127.9L1025.1 1134.6L1025.6 1132.1L1026.0 1124.2L1026.5 1121.9L1026.9 1109.6L1027.4 1139.9L1027.7 1124.4L1028.0 1135.6L1028.4 1109.1L1028.7 1105.9L1029.1 1106.1L1029.4 1134.2L1029.7 1123.8L1030.1 1124.6L1030.4 1130.5L1030.8 1129.2L1031.1 1130.3L1031.4 1122.5L1031.8 1120.0L1032.1 1131.8L1032.4 1141.0L1032.8 1125.9L1033.1 1133.1L1033.5 1129.2L1033.8 1137.9L1034.1 1122.1L1034.5 1153.2L1034.8 1152.6L1035.1 1136.7L1035.5 1134.9L1035.8 1119.9L1036.2 1146.4L1036.5 1139.5L1036.8 1140.5L1037.2 1123.2L1037.5 1146.8L1037.9 1158.5L1038.2 1130.1L1038.5 1139.1L1038.9 1153.4L1039.3 1148.0L1039.8 1148.1L1040.2 1171.8L1040.6 1155.0L1041.0 1142.6L1041.5 1112.9L1041.9 1138.7L1042.3 1126.8L1042.7 1127.4L1043.1 1152.5L1043.6 1128.9L1044.0 1138.0L1044.4 1153.4L1044.8 1132.0L1045.2 1133.8L1045.7 1127.2L1046.1 1134.0L1046.5 1122.5L1046.9 1140.5L1047.3 1131.2L1047.8 1142.4L1048.2 1143.9L1048.6 1136.8L1049.0 1138.7L1049.5 1133.4L1049.9 1142.3L1050.3 1146.2L1050.7 1141.6L1051.2 1151.0L1051.6 1139.5L1052.1 1137.1L1052.5 1142.5L1053.0 1121.8L1053.4 1132.6L1053.9 1117.2L1054.3 1140.0L1054.8 1146.8L1055.2 1124.7L1055.7 1130.4L1056.1 1131.7L1056.6 1149.3L1057.0 1141.5L1057.5 1150.7L1057.9 1144.3L1058.4 1144.6L1058.8 1118.9L1059.3 1117.2L1059.7 1150.9L1060.2 1161.3L1060.6 1125.9L1061.1 1127.1L1061.5 1150.0L1062.0 1159.3L1062.4 1127.5L1062.8 1132.4L1063.2 1149.0L1063.6 1143.0L1064.0 1143.3L1064.4 1148.6L1064.8 1128.7L1065.2 1131.4L1065.6 1156.1L1065.9 1124.3L1066.3 1149.6L1066.7 1136.2L1067.1 1155.1L1067.5 1140.7L1067.9 1139.9L1068.3 1153.7L1068.7 1142.5L1069.1 1142.7L1069.5 1119.2L1069.9 1149.1L1070.3 1142.1L1070.7 1154.6L1071.1 1140.3L1071.5 1133.3L1071.9 1158.6L1072.3 1145.5L1072.7 1143.3L1073.1 1132.5L1073.5 1160.7L1073.9 1155.9L1074.3 1136.3L1074.8 1154.0L1075.2 1151.7L1075.6 1158.7L1076.1 1146.5L1076.5 1168.2L1076.9 1126.2L1077.4 1130.0L1077.8 1153.2L1078.2 1155.5L1078.7 1150.7L1079.1 1170.7L1079.5 1150.4L1080.0 1130.2L1080.4 1162.9L1080.8 1148.0L1081.3 1143.4L1081.7 1153.4L1082.2 1153.2L1082.6 1143.2L1083.0 1155.6L1083.5 1151.4L1083.9 1145.6L1084.3 1145.9L1084.8 1125.9L1085.2 1137.8L1085.6 1138.4L1086.1 1142.3L1086.5 1161.2L1087.0 1145.9L1087.4 1141.6L1087.9 1131.9L1088.3 1140.2L1088.8 1135.1L1089.2 1134.2L1089.7 1144.4L1090.1 1127.4L1090.6 1136.6L1091.0 1153.7L1091.5 1144.9L1091.9 1134.7L1092.4 1138.3L1092.8 1136.2L1093.3 1156.2L1093.7 1155.4L1094.2 1159.5L1094.6 1138.6L1095.1 1141.2L1095.5 1150.8L1096.0 1130.8L1096.4 1136.5L1096.9 1152.5L1097.3 1136.7L1097.8 1134.1L1098.2 1147.7L1098.6 1140.2L1099.1 1136.6L1099.5 1144.3L1099.9 1125.6L1100.4 1150.6L1100.8 1145.3L1101.2 1147.1L1101.7 1145.8L1102.1 1150.7L1102.5 1126.1L1103.0 1144.5L1103.4 1158.6L1103.8 1136.8L1104.3 1135.1L1104.7 1136.7L1105.1 1129.1L1105.6 1169.8L1106.0 1140.8L1106.5 1150.9L1106.9 1133.2L1107.3 1135.8L1107.8 1133.4L1108.2 1127.4L1108.6 1137.5L1109.1 1154.3L1109.5 1135.3L1109.9 1152.8L1110.4 1162.9L1110.8 1147.8L1111.2 1155.5L1111.7 1157.1L1112.1 1138.1L1112.5 1139.5L1113.0 1126.4L1113.4 1139.8L1113.8 1156.5L1114.3 1147.5L1114.7 1143.1L1115.2 1140.2L1115.6 1136.4L1116.0 1140.8L1116.5 1168.7L1116.9 1158.4L1117.3 1148.6L1117.8 1143.4L1118.2 1139.0L1118.6 1156.5L1119.1 1141.3L1119.5 1142.5L1119.9 1143.2L1120.4 1160.1L1120.8 1148.3L1121.2 1163.3L1121.7 1139.1L1122.1 1138.7L1122.5 1134.3L1123.0 1147.6L1123.4 1134.2L1123.8 1140.5L1124.3 1159.7L1124.7 1151.4L1125.2 1142.6L1125.6 1143.2L1126.0 1111.7L1126.5 1121.7L1126.9 1150.4L1127.3 1132.4L1127.8 1134.6L1128.2 1151.4L1128.6 1129.3L1129.1 1144.1L1129.5 1139.6L1129.9 1144.5L1130.4 1142.2L1130.8 1160.6L1131.2 1150.2L1131.7 1158.9L1132.1 1135.8L1132.5 1141.7L1133.0 1146.2L1133.4 1159.9L1133.8 1151.9L1134.2 1141.0L1134.7 1128.9L1135.1 1141.8L1135.5 1129.5L1135.9 1130.2L1136.4 1134.2L1136.8 1135.9L1137.2 1133.5L1137.7 1151.8L1138.1 1138.9L1138.5 1129.3L1138.9 1140.1L1139.4 1123.9L1139.8 1143.7L1140.2 1146.3L1140.6 1147.1L1141.0 1129.5L1141.5 1150.6L1141.9 1149.7L1142.3 1159.8L1142.7 1147.5L1143.2 1142.0L1143.6 1139.7L1144.0 1135.4L1144.4 1132.7L1144.8 1135.3L1145.3 1152.7L1145.7 1140.6L1146.1 1142.9L1146.5 1138.3L1146.9 1147.2L1147.4 1152.0L1147.8 1151.0L1148.2 1132.7L1148.6 1142.4L1149.0 1166.4L1149.5 1148.9L1149.9 1144.7L1150.3 1139.6L1150.7 1130.0L1151.2 1126.0L1151.6 1141.0L1152.1 1144.7L1152.5 1135.6L1153.0 1142.7L1153.4 1149.6L1153.9 1149.2L1154.3 1155.3L1154.8 1128.8L1155.2 1146.0L1155.7 1149.6L1156.1 1145.1L1156.6 1131.0L1157.0 1127.7L1157.5 1160.6L1157.9 1137.7L1158.4 1146.4L1158.8 1137.2L1159.3 1135.5L1159.7 1147.6L1160.2 1152.5L1160.6 1142.8L1161.1 1140.7L1161.5 1152.1L1162.0 1141.3L1162.4 1140.9L1162.9 1137.8L1163.3 1145.5L1163.8 1141.6L1164.2 1140.8L1164.7 1139.6L1165.1 1144.6L1165.6 1154.3L1166.0 1141.3L1166.5 1133.9L1166.9 1163.9L1167.4 1152.4L1167.8 1137.5L1168.3 1125.1L1168.7 1154.0L1169.2 1134.3L1169.6 1141.4L1170.1 1115.6L1170.5 1148.9L1171.0 1152.9L1171.4 1139.7L1171.9 1138.9L1172.3 1140.5L1172.8 1128.9L1173.2 1129.6L1173.7 1151.1L1174.1 1137.2L1174.4 1139.8L1174.8 1138.5L1175.2 1147.3L1175.6 1138.3L1175.9 1144.0L1176.3 1145.4L1176.7 1132.4L1177.0 1136.2L1177.4 1141.6L1177.8 1146.1L1178.2 1140.6L1178.5 1141.0L1178.9 1126.0L1179.3 1130.8L1179.7 1139.0L1180.0 1132.1L1180.4 1133.6L1180.8 1134.7L1181.1 1148.9L1181.6 1124.9L1182.0 1142.9L1182.4 1141.4L1182.8 1137.3L1183.2 1127.9L1183.6 1135.3L1184.0 1130.4L1184.4 1143.7L1184.8 1135.8L1185.2 1137.3L1185.7 1127.6L1186.1 1148.3L1186.5 1117.1L1186.9 1159.8L1187.3 1126.6L1187.7 1130.4L1188.1 1131.9L1188.5 1122.0L1188.9 1146.3L1189.3 1129.2L1189.7 1127.5L1190.1 1146.7L1190.5 1142.0L1191.0 1119.7L1191.4 1122.9L1191.8 1136.5L1192.2 1138.6L1192.6 1143.9L1193.0 1136.4L1193.4 1149.8L1193.8 1148.2L1194.1 1141.5L1194.5 1137.6L1194.9 1148.1L1195.3 1150.5L1195.7 1139.3L1196.1 1135.7L1196.4 1143.4L1196.8 1130.7L1197.2 1138.9L1197.6 1142.6L1198.0 1123.9L1198.4 1126.8L1198.7 1115.1L1199.1 1128.1L1199.5 1138.1L1199.9 1128.4L1200.3 1137.4L1200.7 1132.8L1201.0 1124.5L1201.4 1145.2L1201.8 1130.1L1202.2 1141.2L1202.6 1135.4L1203.0 1130.5L1203.3 1147.7L1203.7 1126.9L1204.1 1124.2L1204.5 1143.3L1204.9 1134.8L1205.2 1124.2L1205.6 1128.3L1206.0 1119.8L1206.4 1138.3L1206.7 1144.4L1207.1 1138.8L1207.5 1141.3L1207.8 1147.4L1208.2 1136.8L1208.6 1128.3L1209.0 1129.3L1209.3 1140.1L1209.7 1139.1L1210.1 1139.4L1210.5 1126.6L1210.8 1137.9L1211.2 1152.5L1211.6 1139.5L1211.9 1151.1L1212.3 1142.8L1212.7 1137.7L1213.1 1152.1L1213.4 1157.6L1213.8 1148.2L1214.2 1154.5L1214.6 1138.6L1214.9 1132.4L1215.3 1126.1L1215.7 1144.3L1216.1 1158.6L1216.5 1138.8L1216.9 1130.4L1217.4 1144.8L1217.8 1144.2L1218.2 1143.7L1218.7 1134.1L1219.1 1158.7L1219.5 1137.7L1220.0 1141.4L1220.4 1128.2L1220.8 1148.8L1221.3 1160.2L1221.7 1153.6L1222.1 1131.6L1222.6 1150.5L1223.0 1132.5L1223.4 1140.8L1223.9 1139.4L1224.3 1150.6L1224.8 1148.4L1225.2 1140.4L1225.6 1142.3L1226.1 1157.6L1226.5 1129.2L1226.9 1138.5L1227.4 1164.7L1227.8 1145.7L1228.2 1135.5L1228.6 1150.6L1229.0 1154.8L1229.5 1136.6L1229.9 1145.1L1230.3 1141.3L1230.7 1154.4L1231.1 1150.2L1231.5 1142.0L1231.9 1156.8L1232.4 1143.5L1232.8 1168.8L1233.2 1160.9L1233.6 1145.9L1234.0 1151.3L1234.4 1160.5L1234.9 1154.3L1235.3 1138.9L1235.7 1144.0L1236.1 1144.2L1236.5 1146.2L1236.9 1131.6L1237.3 1155.8L1237.8 1182.4L1238.2 1150.7L1238.6 1150.7L1239.1 1147.3L1239.5 1154.8L1239.9 1143.2L1240.3 1146.2L1240.8 1154.5L1241.2 1127.2L1241.6 1143.5L1242.0 1166.1L1242.5 1157.9L1242.9 1151.5L1243.3 1152.8L1243.8 1125.9L1244.2 1157.4L1244.6 1147.5L1245.0 1163.4L1245.5 1155.2L1245.9 1158.3L1246.3 1137.1L1246.7 1136.3L1247.2 1171.8L1247.6 1149.9L1248.0 1148.1L1248.4 1166.5L1248.8 1159.1L1249.3 1159.8L1249.7 1170.8L1250.1 1156.8L1250.5 1151.8L1250.9 1149.6L1251.3 1133.1L1251.7 1153.0L1252.1 1152.8L1252.5 1148.2L1252.9 1178.5L1253.4 1145.5L1253.8 1150.7L1254.2 1149.3L1254.6 1150.6L1255.0 1162.2L1255.4 1151.6L1255.8 1161.6L1256.2 1181.1L1256.6 1152.9L1257.0 1150.3L1257.5 1151.7L1257.9 1169.9L1258.3 1161.5L1258.7 1161.4L1259.1 1154.4L1259.5 1153.0L1259.9 1177.2L1260.3 1175.3L1260.7 1150.0L1261.1 1149.7L1261.6 1153.7L1262.0 1154.0L1262.4 1168.1L1262.8 1173.4L1263.2 1158.7L1263.7 1150.4L1264.1 1169.0L1264.5 1174.3L1265.0 1144.6L1265.4 1162.4L1265.9 1150.0L1266.3 1150.0L1266.7 1150.5L1267.2 1173.5L1267.6 1163.1L1268.0 1152.7L1268.5 1159.1L1268.9 1163.5L1269.4 1145.3L1269.8 1166.2L1270.2 1149.6L1270.7 1152.0L1271.1 1175.9L1271.5 1127.1L1272.0 1170.7L1272.4 1171.2L1272.9 1157.5L1273.3 1171.8L1273.7 1162.2L1274.2 1154.6L1274.6 1164.8L1275.0 1155.7L1275.5 1157.7L1275.9 1152.1L1276.4 1188.5L1276.8 1172.5L1277.2 1159.5L1277.7 1146.5L1278.1 1151.8L1278.6 1152.7L1279.0 1149.6L1279.5 1158.9L1279.9 1159.4L1280.4 1177.6L1280.8 1175.2L1281.3 1146.4L1281.7 1174.9L1282.2 1150.1L1282.6 1170.9L1283.1 1162.1L1283.5 1160.7L1284.0 1163.4L1284.4 1153.4L1284.9 1148.0L1285.3 1179.1L1285.8 1145.2L1286.2 1168.0L1286.7 1151.0L1287.1 1164.9L1287.6 1160.0L1288.0 1162.1L1288.5 1152.3L1288.9 1164.2L1289.4 1179.3L1289.8 1168.6L1290.3 1174.1L1290.7 1155.2L1291.2 1157.4L1291.6 1169.3L1292.0 1144.8L1292.5 1171.7L1292.9 1160.9L1293.3 1159.2L1293.7 1177.0L1294.1 1153.3L1294.6 1176.7L1295.0 1150.1L1295.4 1149.3L1295.8 1172.1L1296.2 1173.8L1296.7 1147.7L1297.1 1163.7L1297.5 1183.0L1297.9 1163.3L1298.4 1150.1L1298.8 1159.8L1299.2 1163.3L1299.6 1161.6L1300.0 1152.2L1300.5 1157.4L1300.9 1167.8L1301.3 1170.7L1301.7 1163.4L1302.1 1169.0L1302.6 1166.6L1303.0 1149.3L1303.4 1180.9L1303.8 1179.4L1304.2 1166.0L1304.7 1164.0L1305.1 1166.5L1305.5 1167.5L1305.9 1173.9L1306.4 1175.5L1306.8 1162.7L1307.2 1155.1L1307.7 1154.4L1308.1 1181.7L1308.5 1162.9L1309.0 1152.7L1309.4 1141.1L1309.8 1170.5L1310.3 1163.0L1310.7 1163.7L1311.1 1151.1L1311.6 1156.6L1312.0 1155.2L1312.4 1162.4L1312.9 1181.3L1313.3 1155.8L1313.7 1149.4L1314.2 1170.8L1314.6 1169.7L1315.0 1156.3L1315.5 1162.1L1315.9 1152.9L1316.3 1180.1L1316.7 1165.7L1317.2 1145.2L1317.6 1170.3L1318.0 1171.2L1318.5 1145.9L1318.9 1160.9L1319.3 1160.7L1319.8 1144.2L1320.2 1142.2L1320.6 1190.5L1321.1 1150.0L1321.5 1167.3L1321.9 1169.0L1322.4 1172.6L1322.8 1171.4L1323.2 1163.2L1323.7 1153.8L1324.1 1149.5L1324.5 1167.4L1325.0 1153.0L1325.4 1172.8L1325.8 1160.7L1326.3 1175.7L1326.7 1146.0L1327.1 1180.8L1327.5 1159.4L1328.0 1168.1L1328.4 1149.2L1328.8 1170.3L1329.3 1165.8L1329.7 1175.2L1330.1 1170.7L1330.6 1185.4L1331.0 1147.6L1331.4 1159.4L1331.9 1150.2L1332.3 1163.1L1332.7 1174.2L1333.2 1174.1L1333.6 1157.9L1334.0 1148.9L1334.5 1164.4L1334.9 1171.0L1335.3 1149.5L1335.7 1165.7L1336.2 1156.9L1336.6 1169.5L1337.0 1158.1L1337.4 1176.5L1337.9 1159.8L1338.3 1166.9L1338.7 1199.2L1339.1 1123.0L1339.6 1163.2L1340.0 1164.8L1340.4 1170.7L1340.9 1171.5L1341.3 1168.9L1341.7 1160.2L1342.1 1165.3L1342.6 1172.9L1343.0 1151.5L1343.4 1177.9L1343.8 1166.5L1344.3 1180.8L1344.7 1163.9L1345.1 1173.0L1345.5 1165.7L1346.0 1178.0L1346.4 1180.6L1346.8 1163.1L1347.2 1176.3L1347.7 1167.6L1348.1 1176.1L1348.5 1164.3L1349.0 1164.6L1349.4 1174.1L1349.8 1178.9L1350.3 1171.5L1350.7 1174.1L1351.1 1165.1L1351.6 1179.8L1352.0 1169.3L1352.5 1159.9L1352.9 1186.4L1353.3 1157.2L1353.8 1183.5L1354.2 1172.6L1354.6 1175.8L1355.1 1194.3L1355.5 1165.1L1356.0 1160.9L1356.4 1157.3L1356.8 1170.9L1357.3 1183.1L1357.7 1169.1L1358.1 1171.0L1358.6 1173.4L1359.0 1168.5L1359.5 1173.5L1359.9 1158.2L1360.3 1149.2L1360.8 1163.0L1361.2 1164.9L1361.7 1182.6L1362.1 1174.4L1362.5 1160.1L1363.0 1184.5L1363.4 1180.3L1363.8 1164.9L1364.3 1192.5L1364.7 1173.7L1365.2 1164.6L1365.6 1169.4L1366.0 1179.9L1366.5 1175.2L1366.9 1160.2L1367.3 1189.1L1367.8 1171.1L1368.2 1164.6L1368.7 1170.3L1369.1 1174.7L1369.5 1189.7L1370.0 1187.5L1370.4 1154.5L1370.8 1169.6L1371.3 1173.4L1371.7 1175.6L1372.2 1182.9L1372.6 1180.1L1373.0 1161.9L1373.5 1190.9L1373.9 1181.1L1374.3 1154.7L1374.8 1184.3L1375.2 1176.4L1375.7 1159.4L1376.1 1174.7L1376.5 1179.9L1377.0 1175.7L1377.4 1165.9L1377.9 1171.8L1378.3 1170.5L1378.7 1168.5L1379.2 1178.8L1379.6 1163.5L1380.1 1175.5L1380.5 1178.3L1380.9 1183.2L1381.4 1178.5L1381.8 1169.8L1382.2 1168.7L1382.7 1166.7L1383.1 1189.8L1383.6 1168.1L1384.0 1163.9L1384.4 1168.6L1384.9 1181.0L1385.3 1182.4L1385.7 1156.8L1386.2 1184.0L1386.6 1172.1L1387.1 1191.1L1387.5 1188.3L1387.9 1166.2L1388.4 1163.0L1388.8 1162.6L1389.2 1168.6L1389.7 1176.1L1390.1 1176.2L1390.6 1177.1L1391.0 1179.3L1391.4 1169.5L1391.9 1171.9L1392.3 1176.6L1392.8 1184.4L1393.2 1170.0L1393.7 1165.4L1394.1 1180.1L1394.6 1174.9L1395.0 1177.3L1395.5 1170.9L1395.9 1176.6L1396.4 1167.7L1396.8 1163.8L1397.3 1173.6L1397.7 1156.6L1398.2 1177.5L1398.6 1192.1L1399.1 1160.4L1399.5 1163.1L1400.0 1176.2L1400.4 1163.4L1400.9 1176.1L1401.3 1169.2L1401.8 1166.2L1402.2 1179.1L1402.7 1165.0L1403.1 1165.3L1403.6 1156.7L1404.0 1176.3L1404.5 1169.3L1404.9 1164.8L1405.4 1178.5L1405.8 1169.1L1406.3 1182.0L1406.7 1179.1L1407.1 1166.1L1407.6 1164.2L1408.0 1185.1L1408.5 1169.9L1408.9 1164.2L1409.3 1169.5L1409.8 1153.6L1410.2 1172.5L1410.7 1157.0L1411.1 1176.2L1411.5 1163.8L1412.0 1172.0L1412.4 1186.9L1412.8 1182.6L1413.3 1166.9L1413.7 1174.1L1414.2 1158.6L1414.6 1173.6L1415.0 1183.1L1415.5 1179.5L1415.9 1181.2L1416.3 1174.4L1416.8 1158.4L1417.2 1170.3L1417.7 1158.9L1418.1 1179.6L1418.5 1167.5L1419.0 1164.8L1419.4 1159.2L1419.8 1172.4L1420.3 1175.2L1420.7 1173.7L1421.2 1153.1L1421.6 1174.7L1422.1 1164.2L1422.5 1145.9L1423.0 1176.4L1423.4 1171.7L1423.9 1152.5L1424.3 1178.8L1424.8 1174.7L1425.2 1187.5L1425.7 1174.8L1426.1 1171.0L1426.6 1152.2L1427.0 1191.6L1427.5 1154.2L1427.9 1165.3L1428.4 1176.5L1428.8 1166.4L1429.3 1139.6L1429.7 1165.4L1430.2 1164.1L1430.6 1179.6L1431.1 1167.5L1431.5 1184.0L1432.0 1178.9L1432.4 1180.1L1432.9 1175.9L1433.3 1193.0L1433.8 1180.2L1434.2 1179.7L1434.7 1169.0L1435.1 1165.1L1435.6 1155.0L1436.0 1148.4L1436.4 1156.5L1436.9 1177.6L1437.3 1161.5L1437.7 1167.2L1438.2 1164.7L1438.6 1169.7L1439.1 1174.9L1439.5 1186.4L1439.9 1156.9L1440.4 1192.3L1440.8 1168.5L1441.2 1163.1L1441.7 1166.2L1442.1 1184.2L1442.6 1177.7L1443.0 1184.9L1443.4 1166.2L1443.9 1185.6L1444.3 1169.7L1444.8 1176.5L1445.2 1164.2L1445.6 1168.0L1446.1 1165.3L1446.5 1181.5L1446.9 1180.1L1447.4 1137.7L1447.8 1173.2L1448.3 1173.0L1448.7 1158.5L1449.1 1159.6L1449.6 1184.1L1450.0 1169.1L1450.3 1181.9L1450.7 1181.5L1451.1 1146.7L1451.5 1188.1L1451.9 1159.6L1452.3 1168.2L1452.6 1172.8L1453.0 1179.3L1453.4 1179.7L1453.8 1172.3L1454.2 1173.7L1454.6 1180.6L1455.0 1185.9L1455.3 1172.8L1455.7 1182.8L1456.1 1182.3L1456.5 1170.9L1456.9 1174.6L1457.3 1176.9L1457.7 1203.0L1458.0 1182.5L1458.4 1188.3L1458.8 1188.6L1459.2 1173.9L1459.6 1185.8L1460.0 1164.7L1460.4 1167.3L1460.7 1186.7L1461.1 1177.9L1461.5 1185.6L1461.9 1189.6L1462.3 1205.0L1462.7 1182.7L1463.1 1185.0L1463.4 1161.3L1463.8 1198.7L1464.3 1184.3L1464.7 1178.4L1465.1 1194.2L1465.6 1184.8L1466.0 1177.1L1466.5 1175.6L1466.9 1191.4L1467.3 1194.6L1467.8 1184.5L1468.2 1183.0L1468.6 1207.1L1469.1 1180.4L1469.5 1174.0L1470.0 1191.3L1470.4 1177.8L1470.8 1169.8L1471.3 1187.4L1471.7 1180.0L1472.1 1203.1L1472.6 1188.9L1473.0 1195.5L1473.5 1198.5L1473.9 1191.3L1474.3 1195.8L1474.8 1172.9L1475.2 1174.9L1475.6 1183.1L1476.1 1195.2L1476.5 1190.1L1477.0 1191.9L1477.4 1194.6L1477.8 1182.7L1478.3 1176.7L1478.7 1176.2L1479.1 1200.0L1479.5 1167.6L1479.9 1170.3L1480.4 1188.8L1480.8 1174.2L1481.2 1191.0L1481.6 1176.5L1482.0 1184.3L1482.4 1175.8L1482.8 1190.8L1483.3 1189.4L1483.7 1201.8L1484.1 1192.6L1484.5 1192.2L1484.9 1177.7L1485.3 1183.2L1485.8 1180.5L1486.2 1168.5L1486.6 1171.9L1487.0 1184.7L1487.4 1190.0L1487.8 1204.8L1488.2 1179.3L1488.7 1172.2L1489.1 1194.7L1489.5 1183.5L1489.9 1179.3L1490.3 1182.9L1490.7 1163.8L1491.2 1187.2L1491.6 1190.3L1492.0 1188.2L1492.4 1182.6L1492.8 1186.9L1493.2 1200.2L1493.7 1180.0L1494.1 1210.9L1494.5 1189.4L1494.9 1192.8L1495.3 1220.1L1495.8 1193.6L1496.2 1186.8L1496.6 1193.8L1497.0 1177.9L1497.4 1205.5L1497.9 1192.7L1498.3 1191.7L1498.7 1184.4L1499.1 1195.2L1499.5 1200.8L1500.0 1163.8L1500.4 1176.8L1500.8 1197.9L1501.2 1186.4L1501.6 1190.7L1502.1 1179.5L1502.5 1180.6L1502.9 1204.7L1503.3 1196.9L1503.7 1198.9L1504.2 1160.8L1504.6 1194.9L1505.0 1196.8L1505.4 1197.8L1505.8 1186.3L1506.3 1203.5L1506.7 1205.5L1507.1 1193.2L1507.5 1166.7L1508.0 1192.3L1508.4 1195.1L1508.8 1200.1L1509.2 1188.0L1509.6 1199.0L1510.1 1190.5L1510.5 1191.9L1510.9 1190.6L1511.3 1198.1L1511.7 1205.2L1512.2 1201.8L1512.6 1181.5L1513.0 1199.9L1513.4 1188.3L1513.8 1194.8L1514.3 1163.3L1514.7 1199.4L1515.1 1187.6L1515.5 1187.5L1515.9 1192.1L1516.4 1178.4L1516.8 1181.0L1517.2 1162.8L1517.6 1193.9L1518.1 1184.1L1518.5 1191.6L1518.9 1194.0L1519.3 1184.2L1519.7 1196.0L1520.2 1166.6L1520.6 1185.0L1521.0 1192.4L1521.4 1180.7L1521.8 1189.5L1522.1 1183.6L1522.5 1198.0L1522.8 1199.9L1523.2 1182.5L1523.6 1185.3L1523.9 1192.8L1524.3 1187.8L1524.6 1193.9L1525.0 1190.5L1525.3 1194.9L1525.7 1181.9L1526.1 1196.6L1526.4 1204.3L1526.8 1182.4L1527.1 1199.2L1527.5 1198.0L1527.9 1202.4L1528.2 1175.4L1528.6 1195.6L1528.9 1193.5L1529.3 1204.6L1529.6 1206.7L1530.0 1170.4L1530.4 1191.9L1530.7 1203.3L1531.1 1204.9L1531.4 1205.3L1531.8 1191.8L1532.1 1196.7L1532.5 1206.0L1532.9 1211.2L1533.2 1205.9L1533.6 1194.3L1534.0 1172.9L1534.3 1198.9L1534.7 1202.2L1535.0 1204.1L1535.4 1211.1L1535.8 1213.0L1536.1 1229.3L1536.5 1209.0L1536.9 1213.7L1537.2 1226.8L1537.6 1220.0L1537.9 1204.5L1538.3 1219.0L1538.7 1199.1L1539.0 1220.2L1539.4 1221.5L1539.8 1208.1L1540.1 1224.7L1540.5 1219.7L1540.8 1209.5L1541.2 1223.8L1541.6 1209.1L1541.9 1216.7L1542.3 1202.7L1542.7 1228.8L1543.0 1212.7L1543.5 1208.1L1543.9 1213.3L1544.3 1227.0L1544.7 1234.6L1545.2 1216.5L1545.6 1209.6L1546.0 1217.4L1546.5 1216.2L1546.9 1221.9L1547.3 1215.2L1547.8 1219.8L1548.2 1196.4L1548.6 1203.2L1549.1 1213.7L1549.5 1203.0L1549.9 1206.2L1550.4 1225.5L1550.8 1215.1L1551.2 1215.2L1551.7 1215.2L1552.1 1210.6L1552.5 1210.2L1553.0 1214.1L1553.4 1221.5L1553.8 1217.0L1554.3 1218.7L1554.7 1231.1L1555.1 1220.8L1555.5 1227.2L1556.0 1222.9L1556.4 1228.5L1556.8 1209.4L1557.3 1206.6L1557.7 1226.0L1558.2 1220.9L1558.6 1225.3L1559.1 1203.3L1559.5 1242.2L1560.0 1217.2L1560.4 1239.0L1560.9 1213.9L1561.3 1214.2L1561.8 1195.9L1562.2 1222.6L1562.7 1218.6L1563.1 1214.2L1563.6 1223.7L1564.0 1212.1L1564.5 1226.9L1564.9 1223.4L1565.4 1222.3L1565.8 1213.0L1566.3 1212.4L1566.7 1232.3L1567.2 1219.7L1567.6 1220.4L1568.1 1219.3L1568.5 1217.1L1569.0 1205.3L1569.4 1222.7L1569.9 1214.7L1570.3 1211.0L1570.8 1231.1L1571.2 1243.4L1571.7 1217.1L1572.1 1223.7L1572.6 1206.3L1573.0 1229.7L1573.4 1220.4L1573.9 1227.9L1574.3 1229.3L1574.7 1216.8L1575.2 1226.2L1575.6 1218.1L1576.1 1222.8L1576.5 1220.3L1576.9 1204.9L1577.4 1209.6L1577.8 1201.5L1578.2 1200.4L1578.7 1223.0L1579.1 1232.4L1579.6 1226.1L1580.0 1215.5L1580.4 1246.1L1580.9 1226.3L1581.3 1234.0L1581.7 1218.2L1582.2 1225.7L1582.6 1210.4L1583.1 1216.4L1583.5 1206.2L1583.9 1221.3L1584.4 1214.4L1584.8 1210.2L1585.2 1227.1L1585.7 1217.6L1586.1 1217.8L1586.5 1222.5L1587.0 1212.3L1587.4 1220.5L1587.8 1218.4L1588.3 1215.8L1588.7 1219.2L1589.1 1228.1L1589.5 1222.8L1590.0 1218.7L1590.4 1212.4L1590.8 1226.3L1591.2 1232.8L1591.7 1220.1L1592.1 1209.3L1592.5 1244.3L1592.9 1222.9L1593.4 1241.1L1593.8 1206.1L1594.2 1206.7L1594.6 1212.5L1595.1 1215.7L1595.5 1193.3L1595.9 1202.8L1596.4 1222.0L1596.8 1213.5L1597.2 1225.6L1597.6 1217.9L1598.1 1212.6L1598.5 1220.6L1598.9 1222.1L1599.3 1211.4L1599.8 1227.5L1600.2 1226.2L1600.6 1225.1L1601.0 1220.1L1601.5 1222.2L1601.9 1226.0L1602.3 1227.0L1602.8 1223.6L1603.2 1240.1L1603.6 1230.2L1604.1 1240.1L1604.5 1238.2L1604.9 1212.7L1605.4 1246.6L1605.8 1209.2L1606.2 1229.6L1606.7 1219.9L1607.1 1223.2L1607.5 1235.3L1608.0 1235.3L1608.4 1231.2L1608.8 1220.1L1609.3 1229.3L1609.7 1224.3L1610.1 1223.9L1610.6 1216.6L1611.0 1220.0L1611.4 1234.1L1611.8 1217.2L1612.3 1213.3L1612.7 1230.8L1613.1 1229.8L1613.6 1222.4L1614.0 1240.8L1614.4 1228.8L1614.9 1229.6L1615.3 1199.4L1615.8 1228.6L1616.2 1238.1L1616.6 1214.8L1617.1 1234.0L1617.5 1223.3L1618.0 1222.4L1618.4 1221.3L1618.9 1211.4L1619.3 1203.3L1619.8 1205.3L1620.2 1235.2L1620.6 1227.3L1621.1 1208.0L1621.5 1231.3L1622.0 1229.2L1622.4 1221.1L1622.9 1230.8L1623.3 1230.8L1623.7 1228.0L1624.2 1236.1L1624.6 1216.6L1625.1 1226.6L1625.5 1241.3L1626.0 1246.1L1626.4 1227.2L1626.9 1243.0L1627.3 1221.9L1627.7 1211.4L1628.2 1233.3L1628.6 1238.7L1629.1 1221.5L1629.5 1237.6L1629.9 1210.8L1630.3 1214.9L1630.7 1220.1L1631.1 1224.9L1631.5 1227.9L1631.9 1229.5L1632.3 1235.6L1632.7 1220.4L1633.1 1223.6L1633.5 1245.2L1633.9 1227.0L1634.3 1236.6L1634.7 1231.4L1635.1 1228.9L1635.5 1235.6L1635.9 1221.9L1636.3 1232.2L1636.7 1237.3L1637.1 1232.9L1637.5 1227.3L1637.9 1225.2L1638.3 1228.8L1638.7 1242.0L1639.1 1236.0L1639.5 1225.2L1639.9 1245.6L1640.3 1226.6L1640.7 1240.6L1641.1 1230.6L1641.5 1216.5L1641.9 1230.1L1642.3 1225.8L1642.7 1230.0L1643.1 1230.7L1643.5 1227.2L1643.9 1234.5L1644.3 1231.6L1644.8 1221.4L1645.2 1236.6L1645.6 1237.7L1646.1 1228.7L1646.5 1232.9L1646.9 1229.2L1647.4 1226.8L1647.8 1232.5L1648.2 1240.3L1648.7 1238.6L1649.1 1221.0L1649.5 1233.2L1650.0 1242.7L1650.4 1247.2L1650.8 1231.4L1651.3 1239.8L1651.7 1236.0L1652.1 1224.0L1652.5 1238.9L1653.0 1228.5L1653.4 1223.4L1653.8 1251.2L1654.3 1247.7L1654.7 1239.2L1655.1 1225.0L1655.6 1243.3L1656.0 1234.3L1656.4 1241.2L1656.9 1235.8L1657.3 1239.9L1657.7 1224.0L1658.2 1237.8L1658.6 1239.9L1659.0 1249.4L1659.5 1219.6L1659.9 1256.6L1660.3 1258.4L1660.8 1237.3L1661.2 1231.9L1661.6 1249.1L1662.0 1220.7L1662.5 1234.9L1662.9 1246.7L1663.3 1253.9L1663.8 1245.7L1664.2 1238.7L1664.6 1237.3L1665.1 1239.6L1665.5 1247.6L1665.9 1216.1L1666.4 1235.3L1666.8 1238.4L1667.2 1231.8L1667.7 1235.9L1668.1 1248.4L1668.5 1233.8L1669.0 1232.6L1669.4 1249.2L1669.8 1235.5L1670.3 1231.0L1670.7 1221.4L1671.1 1233.1L1671.6 1219.7L1672.0 1230.4L1672.4 1240.2L1672.8 1229.7L1673.2 1234.3L1673.6 1241.4L1674.0 1246.6L1674.4 1254.6L1674.8 1251.2L1675.1 1244.7L1675.5 1243.0L1675.9 1238.5L1676.3 1232.2L1676.7 1212.2L1677.1 1242.5L1677.5 1231.6L1677.9 1251.5L1678.3 1226.1L1678.6 1222.0L1679.0 1234.7L1679.4 1251.5L1679.8 1238.0L1680.2 1237.1L1680.6 1251.9L1681.0 1240.1L1681.1 1246.1" fill="none" stroke="#ff0000" stroke-width="3" stroke-linejoin="round" shape-rendering="crispEdges"/>
<path d="M290.8 121.0L290.3 125.8L290.7 130.5L291.1 135.2L291.2 140.0L290.4 144.5L291.8 149.0L290.4 153.5L290.9 158.0L288.1 163.0L291.9 168.0L291.8 172.7L292.8 177.3L292.5 182.0L293.8 186.0L294.9 190.0L296.8 195.0L297.6 200.0L297.8 204.4L299.2 208.8L299.7 213.2L299.9 217.6L298.9 222.0L300.7 226.0L300.6 230.0L300.7 234.0L300.4 238.0L300.8 242.0L302.9 246.5L302.3 251.0L303.3 255.5L303.9 260.0L304.0 264.0L304.3 268.0L304.2 272.0L305.6 276.0L305.0 280.0" fill="none" stroke="#000" stroke-width="5" stroke-linejoin="round"/>
<path d="M305.0 280.0L305.3 287.9L305.6 295.4L305.9 295.9L306.2 301.7L306.5 304.8L306.8 318.4L307.1 318.1L307.4 331.8L307.7 304.9L308.0 354.9L308.3 336.4L308.6 351.6L308.9 343.4L309.2 343.3L309.5 358.4L309.8 366.7L310.1 355.6L310.4 359.5L310.7 374.5L311.0 355.7L311.3 349.6L311.6 379.2L311.9 367.1L312.2 352.5L312.5 370.9L312.8 378.6L313.1 371.3L313.4 371.4L313.7 397.1L314.0 413.5L314.3 402.0L314.6 399.2L314.9 419.1L315.2 427.7L315.5 417.5L315.8 433.3L316.1 444.3L316.4 429.1L316.7 422.0L317.0 439.7L317.3 439.8L317.6 453.2L317.9 421.2L318.2 431.4L318.5 430.4L318.8 419.3L319.1 446.8L319.4 454.1L319.7 438.4L320.0 470.3L320.3 464.5L320.6 463.8L320.9 462.8L321.2 472.6L321.5 442.7L321.8 471.8L322.1 473.3L322.4 441.9L322.7 473.2L323.0 466.6L323.3 482.8L323.6 467.5L323.9 475.1L324.2 481.9L324.5 466.6L324.8 488.8L325.1 480.2L325.4 489.8L325.7 476.9L326.0 500.7L326.3 495.2L326.6 485.5L326.9 498.1L327.2 508.2L327.5 516.9L327.8 471.0L328.1 506.7L328.4 502.1L328.7 499.9L329.0 494.9L329.3 534.1L329.6 507.0L329.9 535.6L330.2 547.0L330.5 508.2L330.8 527.3L331.1 514.7L331.4 537.3L331.7 555.9L332.0 564.1L332.3 513.2L332.6 530.9L332.9 549.7L333.2 562.9L333.5 548.2L333.8 533.5L334.1 549.0L334.4 545.9L334.7 544.6L335.0 538.5L335.3 555.1L335.6 555.2L335.9 552.2L336.2 552.8L336.5 540.8L336.8 554.1L337.1 579.4L337.4 562.9L337.7 548.5L338.0 588.3L338.3 579.9L338.6 603.4L338.9 578.4L339.2 573.8L339.5 562.2L339.8 600.8L340.1 619.0L340.4 575.4L340.7 579.3L341.0 597.4L341.3 580.0L341.6 589.0L341.9 589.6L342.2 598.3L342.5 611.9L342.8 599.2L343.1 612.5L343.4 595.9L343.7 606.8L344.0 575.3L344.3 585.5L344.6 616.1L344.9 598.9L345.2 615.0L345.5 615.2L345.8 626.1L346.2 620.0L346.5 623.3L346.8 609.1L347.1 602.1L347.5 602.3L347.8 606.1L348.1 598.4L348.4 606.7L348.7 613.3L349.1 618.4L349.4 611.3L349.7 591.3L350.0 616.1L350.3 621.0L350.6 633.1L350.9 627.5L351.2 612.5L351.5 612.4L351.8 649.0L352.1 633.6L352.4 648.6L352.7 653.4L353.0 616.0L353.3 632.6L353.6 634.5L353.9 636.8L354.2 637.5L354.5 634.1L354.8 634.7L355.1 613.5L355.5 630.5L355.9 622.8L356.3 633.8L356.7 625.9L357.1 639.7L357.5 642.1L357.9 635.2L358.3 635.1L358.7 632.0L359.1 624.7L359.5 628.1L359.9 623.6L360.3 638.0L360.6 635.7L360.9 645.5L361.2 623.5L361.5 654.6L361.8 636.0L362.1 638.9L362.4 648.3L362.7 646.2L363.0 659.7L363.3 651.2L363.6 647.0L363.9 651.7L364.2 681.0L364.5 666.8L364.8 653.5L365.1 670.2L365.4 652.4L365.7 696.4L366.0 656.7L366.3 683.7L366.6 686.5L366.9 661.8L367.4 683.8L367.8 692.5L368.3 685.9L368.7 683.3L369.2 691.9L369.6 682.0L370.1 684.2L370.5 678.4L371.0 687.9L371.4 668.2L371.9 689.9L372.3 673.7L372.8 666.3L373.2 684.6L373.7 701.1L374.1 691.8L374.5 673.1L375.0 688.2L375.4 673.6L375.8 677.6L376.2 680.1L376.6 649.8L377.1 681.1L377.5 665.6L377.9 669.6L378.3 659.7L378.7 659.1L379.2 666.1L379.6 688.1L380.0 698.5L380.4 677.2L380.8 691.0L381.2 673.9L381.7 653.0L382.1 678.8L382.5 682.4L382.9 671.3L383.4 680.4L383.8 683.7L384.2 665.6L384.7 657.8L385.1 673.4L385.5 673.4L386.0 671.6L386.4 688.3L386.8 697.5L387.2 670.4L387.7 684.4L388.1 687.3L388.5 684.3L389.0 688.4L389.4 670.3L389.8 684.4L390.2 700.4L390.7 685.0L391.1 667.1L391.6 682.5L392.0 690.6L392.4 679.4L392.9 667.6L393.3 694.0L393.8 658.8L394.2 680.8L394.6 674.2L395.1 659.4L395.5 689.7L396.0 678.7L396.4 659.6L396.8 681.8L397.3 668.7L397.7 650.2L398.2 665.4L398.6 677.1L399.0 681.4L399.3 675.1L399.7 673.2L400.1 678.1L400.4 669.1L400.8 686.2L401.2 672.9L401.6 674.3L401.9 677.0L402.3 656.5L402.7 660.4L403.0 688.3L403.4 672.8L403.8 664.6L404.2 672.1L404.5 661.3L404.9 670.5L405.3 658.2L405.6 669.7L406.0 645.8L406.4 682.2L406.7 658.5L407.1 644.6L407.5 661.4L407.9 659.1L408.2 665.3L408.6 648.5L409.0 666.5L409.3 706.1L409.6 642.6L409.9 661.8L410.2 652.2L410.5 657.3L410.8 630.5L411.1 637.6L411.4 656.8L411.7 649.2L412.0 669.3L412.3 638.0L412.6 648.3L413.0 683.6L413.4 636.7L413.8 635.1L414.2 646.4L414.6 646.5L415.0 658.1L415.4 649.2L415.8 638.1L416.2 650.7L416.6 681.1L417.0 663.0L417.3 610.3L417.6 643.5L417.9 633.5L418.2 652.0L418.5 641.2L418.9 667.6L419.2 654.0L419.5 652.9L419.8 643.2L420.1 639.6L420.5 644.1L420.8 656.0L421.2 645.8L421.6 634.0L422.0 654.6L422.3 640.2L422.7 636.4L423.1 626.8L423.4 629.3L423.8 628.0L424.2 599.5L424.5 647.8L424.8 641.2L425.1 630.3L425.4 645.7L425.7 637.0L426.0 635.4L426.3 597.7L426.6 625.9L426.9 635.0L427.2 648.1L427.5 650.3L427.8 644.1L428.1 609.7L428.4 595.4L428.7 630.6L429.0 622.8L429.3 634.2L429.6 619.2L429.9 622.9L430.2 599.7L430.5 624.3L430.8 611.9L431.1 621.5L431.4 622.1L431.7 613.8L432.0 618.9L432.3 614.0L432.7 623.6L433.0 619.7L433.3 605.4L433.7 604.3L434.0 634.3L434.4 609.6L434.7 623.4L435.1 615.0L435.4 601.9L435.7 598.7L436.0 609.1L436.3 609.9L436.6 613.6L436.9 587.8L437.2 595.7L437.5 601.3L437.8 622.7L438.1 569.4L438.4 605.3L438.7 591.4L439.0 603.2L439.3 590.0L439.6 600.1L439.9 614.4L440.2 596.8L440.5 596.2L440.8 593.9L441.1 577.3L441.4 593.0L441.7 581.3L442.0 571.7L442.3 580.4L442.6 576.3L442.9 587.9L443.2 575.6L443.5 567.5L443.8 592.6L444.1 584.7L444.4 586.9L444.7 576.4L445.0 565.2L445.3 559.4L445.6 559.7L445.9 574.7L446.2 561.8L446.5 538.8L446.8 557.1L447.1 537.1L447.4 557.2L447.7 537.3L448.0 535.2L448.3 552.7L448.6 548.7L448.9 525.8L449.2 557.3L449.5 575.3L449.8 524.2L450.1 568.0L450.4 532.4L450.7 533.7L451.0 536.7L451.3 518.1L451.6 554.4L451.9 542.0L452.2 523.4L452.5 528.3L452.8 509.6L453.1 524.1L453.4 540.2L453.7 502.0L454.0 518.0L454.3 524.5L454.6 535.4L454.9 538.0L455.2 511.3L455.5 505.8L455.8 520.7L456.1 507.8L456.4 507.9L456.8 527.7L457.2 536.6L457.5 517.2L457.9 511.3L458.2 522.4L458.6 488.6L459.0 515.1L459.3 501.0L459.7 549.4L460.0 526.7L460.4 519.1L460.8 514.9L461.1 483.1L461.5 528.4L461.8 541.5L462.2 509.3L462.6 529.3L462.9 530.3L463.3 499.3L463.6 533.7L464.0 538.8L464.3 522.5L464.6 517.8L464.9 529.0L465.2 496.0L465.5 518.0L465.9 530.7L466.2 498.1L466.5 528.5L466.8 508.3L467.1 484.5L467.5 511.3L467.8 498.6L468.1 515.9L468.4 494.4L468.7 524.7L469.0 499.1L469.4 513.7L469.7 499.8L470.0 502.9L470.3 523.4L470.6 509.1L470.9 499.9L471.3 487.3L471.6 520.4L471.9 513.7L472.2 498.2L472.5 505.6L472.8 487.1L473.2 486.6L473.5 488.6L473.8 504.4L474.1 503.0L474.4 487.7L474.8 507.8L475.1 508.0L475.5 499.2L475.9 511.1L476.3 492.4L476.7 494.7L477.1 502.7L477.6 495.4L478.0 506.8L478.4 478.0L478.8 515.3L479.2 484.2L479.6 492.7L480.0 475.5L480.5 503.0L480.9 512.3L481.3 509.2L481.7 505.7L482.1 472.1L482.5 482.8L482.9 487.0L483.3 480.3L483.8 508.9L484.2 495.6L484.6 492.5L485.0 499.4L485.4 479.1L485.8 479.5L486.2 479.7L486.7 498.9L487.1 496.5L487.5 499.6L487.9 506.4L488.3 472.2L488.7 483.1L489.1 492.9L489.6 471.7L490.0 483.0L490.4 504.5L490.8 505.5L491.2 505.0L491.6 490.3L492.0 486.6L492.5 504.5L492.9 484.0L493.3 493.7L493.7 507.4L494.1 483.5L494.5 479.9L494.9 488.2L495.3 496.5L495.8 494.7L496.2 489.9L496.6 495.4L497.0 465.0L497.4 475.2L497.8 489.3L498.2 474.5L498.6 469.2L499.0 471.6L499.3 476.1L499.7 486.9L500.0 475.6L500.4 493.7L500.7 514.7L501.1 489.3L501.4 509.7L501.8 496.4L502.1 477.2L502.5 489.8L502.8 480.1L503.2 505.1L503.5 478.7L503.9 513.8L504.2 503.9L504.6 468.0L504.9 507.8L505.3 519.0L505.6 486.7L506.0 512.1L506.3 473.6L506.7 502.8L507.0 476.5L507.4 507.0L507.8 475.7L508.1 464.3L508.5 507.2L508.8 534.2L509.2 494.3L509.5 514.9L509.8 505.7L510.1 500.4L510.4 514.3L510.7 529.5L511.0 490.1L511.3 516.0L511.6 513.7L511.9 489.9L512.2 533.0L512.5 538.5L512.8 498.9L513.1 537.1L513.4 514.5L513.7 512.3L514.0 536.2L514.3 519.3L514.6 521.4L514.9 538.8L515.2 536.4L515.5 531.7L515.8 500.7L516.1 499.2L516.4 537.4L516.7 509.7L517.0 525.4L517.3 509.3L517.6 522.4L517.9 508.1L518.2 549.2L518.5 513.6L518.8 527.0L519.1 527.0L519.4 547.2L519.7 512.0L520.0 532.1L520.3 530.7L520.6 541.8L520.9 542.0L521.2 530.1L521.5 540.7L521.8 533.3L522.1 545.8L522.4 539.0L522.7 532.4L523.0 541.9L523.3 548.3L523.6 575.2L523.9 538.5L524.2 550.4L524.5 567.2L524.8 519.8L525.1 525.4L525.4 533.9L525.7 549.6L526.0 585.3L526.3 558.4L526.6 570.4L526.9 551.7L527.2 522.1L527.5 524.8L527.8 570.8L528.1 560.2L528.4 540.9L528.7 574.3L529.0 539.1L529.3 576.0L529.6 581.0L529.9 551.8L530.2 547.9L530.5 575.0L530.8 549.6L531.1 576.7L531.4 549.7L531.8 577.5L532.1 568.6L532.4 562.2L532.7 556.7L533.0 572.7L533.3 544.8L533.6 567.3L533.9 566.4L534.2 581.6L534.5 556.4L534.8 597.0L535.1 570.5L535.4 560.1L535.7 594.7L536.0 599.1L536.3 574.9L536.6 566.2L536.9 579.0L537.3 570.3L537.6 576.0L537.9 601.7L538.2 586.8L538.5 584.2L538.8 587.6L539.1 582.8L539.4 595.5L539.8 596.7L540.1 580.8L540.4 587.8L540.7 619.2L541.0 593.4L541.3 586.0L541.6 616.4L541.9 589.9L542.3 575.9L542.6 600.1L542.9 579.9L543.2 585.9L543.5 597.6L543.8 592.2L544.1 584.5L544.5 588.0L544.8 588.1L545.1 612.1L545.4 587.8L545.7 590.5L546.0 625.7L546.3 592.1L546.6 619.8L546.9 618.3L547.2 599.7L547.5 583.8L547.8 609.3L548.1 613.0L548.4 617.7L548.7 606.7L549.0 622.4L549.3 625.6L549.6 594.3L549.9 627.7L550.2 612.0L550.5 603.1L550.8 607.2L551.1 636.8L551.4 625.8L551.7 590.3L552.0 615.6L552.3 613.5L552.6 613.9L552.9 610.3L553.2 598.7L553.5 629.8L553.8 607.1L554.1 615.3L554.4 613.1L554.7 612.3L555.0 632.3L555.3 628.5L555.6 615.9L555.9 613.5L556.2 620.8L556.5 640.5L556.8 630.7L557.1 633.2L557.4 627.1L557.7 629.1L558.0 636.4L558.3 610.9L558.6 656.6L558.9 626.8L559.2 630.7L559.5 656.4L559.8 643.1L560.1 641.9L560.4 635.0L560.7 623.6L561.0 647.1L561.3 661.2L561.6 635.4L561.9 665.5L562.2 634.8L562.5 640.9L562.8 657.9L563.1 652.6L563.4 662.5L563.7 645.3L564.0 642.4L564.4 632.5L564.7 641.7L565.0 644.0L565.3 640.2L565.6 663.0L565.9 651.4L566.2 635.3L566.5 692.7L566.8 651.3L567.1 646.7L567.4 679.0L567.7 678.8L568.1 650.2L568.4 646.8L568.7 653.5L569.0 681.1L569.3 663.6L569.6 658.1L569.9 668.6L570.2 684.9L570.5 652.9L570.8 666.3L571.1 654.4L571.4 699.9L571.8 696.1L572.1 685.9L572.4 673.0L572.7 683.6L573.0 649.7L573.3 680.2L573.6 660.7L573.9 661.6L574.2 670.1L574.5 675.2L574.8 687.5L575.2 689.8L575.5 685.0L575.8 670.6L576.1 691.6L576.4 682.3L576.7 699.3L577.0 673.8L577.3 651.5L577.6 680.7L577.9 714.2L578.2 693.9L578.6 686.0L578.9 699.8L579.3 695.4L579.7 695.3L580.1 683.6L580.4 691.3L580.8 693.2L581.2 683.1L581.5 677.6L581.9 693.6L582.3 704.3L582.7 700.7L583.0 699.2L583.4 699.7L583.8 725.9L584.2 697.5L584.5 707.6L584.9 719.3L585.3 696.1L585.6 699.1L586.0 709.1L586.4 717.5L586.8 700.9L587.1 701.9L587.5 698.9L587.9 683.3L588.2 712.4L588.6 695.8L589.0 678.1L589.4 698.0L589.7 679.2L590.0 689.4L590.3 703.3L590.6 693.0L590.9 718.7L591.2 688.7L591.5 711.3L591.8 716.1L592.1 728.4L592.4 723.1L592.7 715.9L593.0 715.3L593.3 714.8L593.6 730.7L593.9 710.0L594.2 725.6L594.5 719.4L594.8 724.7L595.1 719.8L595.4 750.1L595.7 716.5L596.1 728.0L596.5 728.7L596.8 733.1L597.2 731.6L597.6 731.7L597.9 738.9L598.3 709.2L598.7 727.9L599.0 713.3L599.4 731.4L599.8 714.7L600.1 717.9L600.5 729.1L600.9 747.1L601.2 737.7L601.6 734.7L602.0 748.4L602.3 720.5L602.7 707.1L603.1 727.6L603.4 729.8L603.8 748.4L604.2 759.7L604.6 718.4L604.9 764.6L605.3 754.0L605.7 745.7L606.0 740.5L606.4 765.6L606.8 737.8L607.1 731.6L607.5 739.4L607.9 721.7L608.2 744.2L608.6 737.6L609.0 743.3L609.3 744.1L609.7 727.5L610.1 756.7L610.4 729.4L610.7 752.8L611.0 723.8L611.3 748.0L611.7 734.4L612.0 745.3L612.3 737.7L612.6 720.1L612.9 733.5L613.3 748.2L613.6 755.5L613.9 731.2L614.2 724.1L614.5 739.6L614.9 748.2L615.2 743.8L615.5 742.4L615.8 762.7L616.1 764.7L616.5 762.7L616.8 743.4L617.1 756.1L617.4 753.6L617.8 739.6L618.1 767.6L618.4 758.8L618.7 752.7L619.0 775.8L619.4 768.8L619.7 770.5L620.0 775.2L620.3 770.2L620.6 747.4L621.0 758.4L621.3 775.4L621.6 755.3L621.9 765.4L622.2 770.3L622.6 783.2L622.9 782.1L623.2 778.1L623.5 766.0L623.8 779.5L624.2 775.6L624.5 768.2L624.8 786.6L625.1 777.1L625.4 763.1L625.8 787.4L626.1 770.3L626.4 780.8L626.7 756.7L627.1 774.9L627.4 764.7L627.7 765.0L628.0 754.8L628.4 802.5L628.7 776.5L629.0 781.6L629.3 792.4L629.7 778.7L630.0 786.7L630.3 765.6L630.6 784.3L631.0 777.8L631.3 789.1L631.6 786.0L631.9 768.5L632.3 763.7L632.6 774.1L632.9 794.9L633.2 791.9L633.5 792.3L633.9 765.0L634.2 757.9L634.5 782.4L634.8 786.3L635.2 783.9L635.5 795.5L635.8 790.1L636.1 779.1L636.5 783.2L636.8 795.6L637.1 795.4L637.4 794.3L637.8 821.8L638.1 793.4L638.4 798.4L638.7 786.2L639.1 793.9L639.4 804.6L639.8 805.5L640.1 797.8L640.5 804.6L640.8 801.2L641.2 779.6L641.5 764.3L641.9 828.4L642.2 812.1L642.6 802.5L642.9 783.9L643.3 789.6L643.6 820.1L644.0 773.5L644.3 802.0L644.7 816.1L645.0 808.3L645.4 815.8L645.7 806.2L646.0 835.4L646.4 797.1L646.7 793.8L647.1 812.9L647.4 826.5L647.8 810.2L648.1 823.2L648.5 805.8L648.8 798.9L649.2 828.6L649.5 831.0L649.9 831.1L650.2 809.4L650.6 801.9L650.9 802.2L651.3 813.4L651.6 823.0L652.0 822.6L652.3 801.3L652.7 820.1L653.0 818.5L653.4 819.7L653.8 818.8L654.1 817.1L654.5 826.4L654.9 821.6L655.3 823.0L655.6 813.1L656.0 825.7L656.4 820.3L656.8 798.3L657.1 827.8L657.5 819.8L657.9 833.5L658.3 821.7L658.6 822.8L659.0 826.6L659.4 824.5L659.8 820.0L660.2 805.3L660.5 846.3L660.9 808.4L661.3 822.6L661.7 834.1L662.0 831.4L662.4 833.9L662.8 836.5L663.2 842.4L663.5 832.0L663.9 861.4L664.3 818.1L664.7 832.3L665.0 826.1L665.4 824.4L665.8 834.1L666.2 847.4L666.5 823.7L666.9 824.1L667.3 840.4L667.7 838.7L668.0 854.8L668.4 844.9L668.8 836.4L669.2 830.5L669.6 836.9L669.9 833.0L670.3 820.0L670.7 835.3L671.2 833.4L671.6 832.8L672.0 830.8L672.4 854.3L672.9 843.5L673.3 846.2L673.7 829.3L674.2 824.8L674.6 833.1L675.0 839.0L675.4 832.6L675.9 834.5L676.3 847.3L676.7 840.1L677.1 826.0L677.6 832.3L678.0 829.8L678.4 839.2L678.9 824.4L679.3 835.5L679.7 845.2L680.1 838.0L680.6 827.7L681.0 831.1L681.4 839.3L681.8 842.7L682.2 846.1L682.5 834.8L682.9 821.3L683.2 851.1L683.6 838.1L683.9 838.8L684.3 837.2L684.6 821.8L685.0 829.2L685.3 835.1L685.7 843.2L686.0 831.9L686.3 796.1L686.7 827.6L687.0 833.7L687.4 843.6L687.7 836.6L688.1 855.9L688.4 843.6L688.8 842.2L689.1 837.2L689.5 810.7L689.8 835.1L690.2 831.8L690.5 818.8L690.9 830.7L691.2 828.3L691.6 817.9L691.9 821.2L692.3 819.1L692.6 824.2L693.0 816.3L693.3 826.5L693.6 798.2L693.9 815.9L694.3 799.5L694.6 812.3L694.9 822.9L695.2 816.7L695.5 814.6L695.9 815.9L696.2 832.2L696.5 801.4L696.8 823.2L697.1 795.5L697.5 806.6L697.8 813.1L698.1 800.9L698.4 812.3L698.7 817.5L699.1 795.1L699.4 807.1L699.7 803.1L700.0 784.6L700.3 803.9L700.7 796.3L701.0 819.9L701.3 794.1L701.6 822.8L701.9 796.7L702.3 824.2L702.6 807.6L702.9 806.0L703.2 809.3L703.5 809.8L703.9 814.9L704.2 818.0L704.5 793.6L704.8 782.6L705.1 765.6L705.4 791.1L705.8 803.6L706.1 798.6L706.4 794.9L706.7 788.9L707.0 785.0L707.4 788.7L707.8 796.3L708.2 771.4L708.6 799.9L709.0 774.6L709.5 789.4L709.9 783.8L710.3 786.7L710.7 778.7L711.2 777.3L711.6 787.8L712.0 777.8L712.4 818.4L712.8 785.2L713.3 782.3L713.7 783.4L714.1 777.2L714.5 761.1L714.9 786.3L715.4 792.7L715.8 771.6L716.2 788.9L716.6 774.7L717.0 788.1L717.5 792.5L717.9 793.8L718.3 793.1L718.7 779.8L719.2 798.5L719.5 783.5L719.9 793.0L720.3 797.5L720.7 786.2L721.1 775.3L721.4 797.5L721.8 777.9L722.2 780.8L722.6 778.7L723.0 801.5L723.3 790.2L723.7 766.6L724.1 801.2L724.5 816.9L724.9 814.2L725.2 787.3L725.6 795.1L726.0 800.4L726.4 805.1L726.8 795.6L727.1 783.0L727.5 804.6L727.9 803.3L728.3 781.4L728.7 792.7L729.1 800.4L729.4 797.6L729.8 804.0L730.2 807.4L730.6 804.9L731.0 797.7L731.3 783.9L731.7 806.7L732.1 816.0L732.5 822.9L732.9 800.4L733.2 800.7L733.6 818.0L734.0 818.3L734.4 806.2L734.7 810.8L735.1 794.4L735.5 810.1L735.8 794.4L736.2 802.6L736.6 803.2L737.0 799.7L737.3 781.4L737.7 796.4L738.1 809.9L738.5 805.8L738.8 802.4L739.2 812.2L739.6 815.5L739.9 817.7L740.3 799.3L740.7 809.1L741.1 805.4L741.4 799.7L741.8 793.1L742.2 809.3L742.5 800.9L742.9 835.5L743.3 810.4L743.7 809.4L744.0 807.8L744.4 833.9L744.8 803.0L745.1 812.6L745.4 806.6L745.7 814.7L746.0 816.5L746.3 830.1L746.6 802.7L746.9 819.2L747.2 838.4L747.5 815.4L747.8 820.0L748.1 812.8L748.4 794.3L748.7 823.3L749.0 838.4L749.3 820.9L749.6 806.4L749.9 830.8L750.2 829.5L750.5 840.6L750.8 840.4L751.1 828.1L751.4 836.4L751.7 812.8L752.0 846.0L752.3 836.5L752.6 847.3L752.9 847.9L753.2 833.8L753.5 836.2L753.8 829.0L754.1 816.7L754.4 838.9L754.7 842.8L755.0 830.0L755.3 850.6L755.6 844.7L755.9 849.5L756.2 836.5L756.6 825.9L757.0 854.1L757.4 852.5L757.7 844.9L758.1 841.8L758.5 843.7L758.9 845.5L759.3 841.8L759.7 825.6L760.1 856.5L760.5 831.9L760.9 844.9L761.3 845.5L761.6 852.0L762.0 831.8L762.4 862.9L762.8 857.2L763.2 858.7L763.6 864.5L764.0 842.2L764.4 817.1L764.8 855.2L765.2 866.2L765.5 864.9L765.9 846.7L766.3 851.8L766.7 856.2L767.1 833.7L767.5 846.5L767.9 847.1L768.3 871.5L768.7 847.5L769.1 872.0L769.5 855.4L769.8 837.3L770.2 879.9L770.6 845.6L771.0 863.2L771.4 875.3L771.8 851.3L772.2 844.0L772.6 869.0L773.0 858.7L773.4 845.0L773.7 846.9L774.1 854.7L774.5 869.7L774.9 856.4L775.3 866.9L775.7 878.0L776.1 874.2L776.5 876.3L776.8 874.4L777.2 844.0L777.6 874.9L778.0 865.6L778.4 861.0L778.8 851.0L779.2 845.8L779.6 851.3L779.9 863.4L780.3 851.3L780.7 855.4L781.1 857.9L781.5 872.0L781.9 862.0L782.3 863.9L782.6 880.1L783.0 862.7L783.4 872.9L783.8 855.4L784.2 870.6L784.6 868.7L785.0 869.6L785.4 863.0L785.7 857.3L786.1 865.4L786.5 863.9L786.9 880.3L787.3 879.3L787.7 857.0L788.1 876.9L788.5 865.4L788.8 875.7L789.2 866.0L789.6 855.7L790.0 882.6L790.4 876.9L790.8 859.4L791.1 852.6L791.5 867.5L791.9 861.0L792.3 870.1L792.6 881.0L793.0 890.4L793.4 871.3L793.8 890.2L794.1 888.3L794.5 871.6L794.9 858.8L795.3 886.1L795.6 883.8L796.0 902.8L796.4 893.3L796.8 886.8L797.1 896.8L797.5 868.1L797.9 881.7L798.3 877.1L798.6 898.9L799.0 886.8L799.4 848.7L799.8 896.1L800.1 872.3L800.5 890.5L800.9 877.6L801.3 885.7L801.6 890.2L802.0 885.9L802.4 874.1L802.8 899.4L803.1 889.2L803.5 885.8L803.8 894.5L804.1 882.5L804.4 909.0L804.7 892.6L805.0 895.2L805.3 896.0L805.6 883.9L805.9 882.3L806.2 897.9L806.5 900.4L806.8 911.8L807.1 903.5L807.4 888.6L807.7 905.9L808.1 909.4L808.5 911.5L808.9 904.9L809.2 889.1L809.6 914.3L810.0 895.0L810.4 908.9L810.7 887.0L811.1 911.6L811.5 895.8L811.9 915.5L812.3 923.0L812.6 917.2L813.0 893.3L813.4 896.0L813.8 897.1L814.2 913.3L814.5 910.4L814.9 908.8L815.3 910.7L815.7 913.9L816.0 915.0L816.4 926.0L816.8 908.4L817.2 911.4L817.6 890.5L817.9 896.4L818.3 903.0L818.8 897.9L819.2 912.4L819.7 920.8L820.1 905.6L820.6 905.1L821.0 904.8L821.5 911.4L821.9 904.5L822.4 914.5L822.8 913.2L823.3 913.6L823.7 917.9L824.2 910.4L824.6 911.5L825.1 928.2L825.5 909.6L826.0 918.2L826.4 910.6L826.9 905.3L827.3 905.3L827.8 901.6L828.2 910.1L828.7 903.8L829.1 906.3L829.5 923.7L829.8 910.3L830.2 923.9L830.5 915.5L830.8 922.1L831.2 907.5L831.5 915.8L831.9 941.8L832.2 923.8L832.6 926.2L832.9 918.8L833.3 925.7L833.6 905.6L833.9 909.3L834.3 922.9L834.6 927.4L835.0 915.4L835.3 918.2L835.7 916.9L836.0 919.2L836.4 909.4L836.7 907.6L837.0 921.8L837.4 905.3L837.8 913.1L838.3 916.4L838.7 912.5L839.1 925.6L839.6 918.8L840.0 922.5L840.4 913.2L840.9 916.0L841.3 928.8L841.7 927.3L842.2 919.0L842.6 927.5L843.0 925.8L843.5 925.6L843.9 940.2L844.3 920.0L844.8 928.4L845.2 928.5L845.6 921.9L846.1 912.6L846.5 931.5L846.9 927.2L847.4 925.1L847.8 924.9L848.2 925.1L848.6 916.0L849.1 928.2L849.5 907.1L849.9 925.3L850.3 910.6L850.7 922.4L851.1 933.4L851.5 923.7L851.9 921.6L852.3 931.9L852.8 924.1L853.2 922.9L853.6 923.3L854.0 942.7L854.4 934.3L854.8 932.6L855.2 916.0L855.6 934.4L856.0 915.3L856.5 933.4L856.9 917.5L857.3 948.6L857.7 912.1L858.1 941.6L858.5 937.5L858.9 911.8L859.3 927.5L859.7 944.7L860.1 941.8L860.5 913.9L860.9 925.6L861.3 919.2L861.7 921.0L862.2 925.0L862.6 950.2L863.0 933.3L863.4 929.9L863.8 929.0L864.2 939.3L864.6 939.8L865.0 923.9L865.4 948.0L865.8 922.7L866.2 931.0L866.6 938.5L867.0 951.4L867.4 931.0L867.8 937.5L868.2 948.0L868.6 941.4L869.0 946.6L869.4 946.0L869.8 938.4L870.2 942.4L870.6 945.4L871.0 936.2L871.4 952.7L871.9 917.1L872.3 928.0L872.7 951.8L873.1 941.9L873.5 931.5L873.9 941.9L874.3 949.2L874.7 933.0L875.1 946.5L875.5 937.8L875.9 938.1L876.3 938.8L876.7 950.8L877.1 928.8L877.5 936.5L877.9 947.0L878.3 928.5L878.7 925.1L879.1 946.8L879.5 941.3L879.9 940.0L880.4 942.9L880.8 931.9L881.2 970.6L881.7 932.0L882.1 937.5L882.5 927.8L883.0 937.9L883.4 957.3L883.8 942.4L884.3 948.2L884.7 937.5L885.1 960.4L885.6 944.1L886.0 930.2L886.4 950.3L886.9 939.1L887.3 948.9L887.7 944.3L888.2 945.6L888.6 944.4L889.0 934.2L889.5 928.3L889.9 953.0L890.3 942.1L890.7 946.6L891.1 939.5L891.5 924.4L891.9 932.1L892.3 958.9L892.7 937.6L893.0 941.9L893.4 931.5L893.8 941.2L894.2 943.0L894.6 944.8L895.0 946.6L895.4 941.4L895.7 942.3L896.1 948.2L896.5 951.8L896.9 947.5L897.3 966.4L897.7 951.6L898.1 951.5L898.4 943.7L898.8 960.5L899.3 940.5L899.7 934.7L900.1 941.2L900.5 957.0L900.9 939.8L901.4 963.9L901.8 951.1L902.2 936.5L902.6 949.3L903.1 969.2L903.5 943.4L903.9 939.1L904.3 957.1L904.8 965.1L905.2 962.3L905.6 949.3L906.0 954.5L906.5 955.9L906.9 964.4L907.3 974.1L907.7 952.1L908.1 966.0L908.6 950.0L909.0 959.3L909.4 944.5L909.8 946.3L910.3 958.0L910.7 945.3L911.1 962.9L911.5 949.1L911.9 955.9L912.2 954.9L912.5 953.1L912.9 958.2L913.2 968.1L913.5 988.4L913.8 947.2L914.2 962.3L914.5 958.2L914.8 951.6L915.2 963.9L915.5 953.2L915.8 961.6L916.2 975.0L916.5 943.9L916.8 966.5L917.2 969.0L917.5 956.1L917.8 971.0L918.1 969.9L918.5 963.7L918.8 979.4L919.1 955.7L919.5 975.1L919.8 967.3L920.1 959.9L920.5 969.0L920.8 968.0L921.1 979.8L921.4 958.2L921.8 971.2L922.1 969.3L922.4 989.4L922.8 964.2L923.1 985.6L923.4 959.3L923.8 980.0L924.1 976.0L924.4 980.8L924.9 970.4L925.3 958.4L925.7 962.2L926.2 989.4L926.6 978.8L927.0 968.4L927.5 985.2L927.9 969.4L928.3 969.4L928.8 964.7L929.2 987.5L929.6 994.9L930.1 966.9L930.5 978.7L930.9 985.2L931.4 996.0L931.8 952.8L932.2 977.0L932.7 981.7L933.1 961.3L933.5 979.2L934.0 977.1L934.4 982.1L934.8 969.6L935.2 979.5L935.6 970.1L936.0 982.0L936.4 978.0L936.7 973.2L937.1 963.7L937.5 993.2L937.9 988.4L938.3 986.5L938.7 972.1L939.1 975.5L939.4 995.0L939.8 986.5L940.2 971.7L940.6 980.5L941.0 981.8L941.4 978.9L941.8 972.1L942.1 993.3L942.5 987.4L942.9 980.2L943.3 967.5L943.7 977.2L944.1 983.1L944.4 991.7L944.8 980.3L945.2 994.6L945.6 985.4L946.0 976.9L946.4 957.4L946.9 972.6L947.3 969.5L947.7 982.1L948.2 986.6L948.6 996.5L949.0 983.1L949.4 972.1L949.9 1005.2L950.3 985.8L950.7 980.2L951.1 980.1L951.6 969.7L952.0 988.4L952.4 985.8L952.8 997.2L953.3 992.5L953.7 990.2L954.1 993.8L954.5 979.0L955.0 977.4L955.4 981.0L955.8 969.5L956.3 980.2L956.7 978.7L957.1 988.3L957.5 982.1L957.9 964.3L958.3 982.9L958.7 996.2L959.1 965.6L959.5 976.0L960.0 983.6L960.4 971.1L960.8 978.6L961.2 984.6L961.6 971.7L962.0 987.2L962.4 988.5L962.8 972.8L963.2 985.3L963.7 995.4L964.1 983.8L964.5 989.8L964.9 991.9L965.3 983.8L965.7 995.5L966.1 990.1L966.5 977.2L967.0 991.4L967.4 994.6L967.8 994.0L968.3 980.3L968.7 990.6L969.2 999.2L969.6 988.3L970.0 997.3L970.5 998.3L970.9 985.6L971.3 992.2L971.8 983.1L972.2 995.9L972.6 984.9L973.1 980.5L973.5 985.4L974.0 984.9L974.4 989.1L974.8 989.8L975.3 974.4L975.7 979.2L976.1 988.7L976.6 989.7L977.0 985.9L977.4 1010.0L977.9 995.6L978.3 984.2L978.8 991.8L979.2 997.5L979.6 988.3L980.1 968.4L980.5 985.8L981.0 985.4L981.4 1005.1L981.9 967.6L982.3 999.6L982.8 983.5L983.2 993.8L983.7 982.2L984.1 986.7L984.6 995.7L985.0 985.8L985.5 995.0L985.9 984.3L986.4 981.2L986.8 983.0L987.3 980.3L987.7 983.9L988.2 998.0L988.6 974.0L989.1 969.4L989.5 984.9L990.0 1001.0L990.4 995.0L990.9 997.6L991.3 997.0L991.8 978.2L992.2 986.3L992.7 960.0L993.1 979.4L993.6 990.9L994.0 970.5L994.5 965.7L994.9 972.9L995.4 987.3L995.8 996.3L996.3 1009.7L996.7 998.8L997.2 970.9L997.6 963.3L998.1 986.7L998.5 995.3L999.0 970.0L999.4 980.4L999.9 981.1L1000.3 985.7L1000.8 983.7L1001.2 990.3L1001.7 995.5L1002.1 986.2L1002.6 992.6L1003.0 1004.4L1003.5 975.9L1003.9 975.6L1004.4 990.5L1004.8 1003.3L1005.2 987.4L1005.7 996.3L1006.1 983.1L1006.5 994.8L1007.0 980.3L1007.4 992.7L1007.8 990.1L1008.3 990.2L1008.7 999.6L1009.2 996.8L1009.6 981.1L1010.0 995.2L1010.5 970.9L1010.9 996.4L1011.3 1013.1L1011.8 992.3L1012.2 992.2L1012.6 988.1L1013.1 995.4L1013.5 983.4L1013.9 994.1L1014.4 985.3L1014.8 984.0L1015.2 989.2L1015.7 987.5L1016.1 971.7L1016.6 1007.7L1017.0 989.5L1017.5 972.2L1017.9 998.3L1018.4 987.9L1018.8 990.1L1019.3 994.8L1019.7 979.7L1020.2 960.4L1020.6 987.2L1021.1 990.5L1021.5 997.6L1022.0 981.0L1022.4 985.7L1022.9 992.0L1023.3 985.2L1023.8 985.8L1024.2 990.6L1024.7 978.8L1025.1 1003.1L1025.6 979.5L1026.0 988.5L1026.5 985.1L1026.9 981.5L1027.4 993.3L1027.8 997.8L1028.2 1002.1L1028.7 993.9L1029.1 984.3L1029.6 996.7L1030.0 975.0L1030.4 989.2L1030.9 993.7L1031.3 994.2L1031.7 978.1L1032.2 974.9L1032.6 1004.7L1033.0 984.3L1033.5 973.7L1033.9 977.6L1034.3 989.4L1034.8 1000.5L1035.2 989.4L1035.6 1000.8L1036.1 991.7L1036.5 994.0L1036.9 998.9L1037.4 986.2L1037.8 992.6L1038.2 986.2L1038.7 983.9L1039.1 996.1L1039.6 982.3L1040.0 990.8L1040.4 982.7L1040.9 989.4L1041.3 985.3L1041.7 1000.6L1042.2 991.1L1042.6 991.2L1043.0 1006.0L1043.5 963.3L1043.9 980.1L1044.3 964.9L1044.8 990.6L1045.2 994.8L1045.6 996.8L1046.1 993.3L1046.5 982.7L1046.9 1007.4L1047.4 993.8L1047.8 988.6L1048.3 980.6L1048.7 995.1L1049.1 986.6L1049.6 987.0L1050.0 993.3L1050.4 993.3L1050.8 983.4L1051.3 1002.7L1051.7 981.3L1052.1 980.1L1052.5 993.3L1053.0 991.5L1053.4 990.8L1053.8 986.1L1054.2 990.2L1054.6 984.4L1055.1 974.0L1055.5 996.3L1055.9 979.7L1056.3 986.9L1056.7 995.8L1057.2 989.0L1057.6 1014.4L1058.0 975.3L1058.4 981.3L1058.8 989.0L1059.3 1000.8L1059.7 985.5L1060.1 974.2L1060.5 998.3L1061.0 978.7L1061.4 985.4L1061.8 995.5L1062.2 980.9L1062.7 983.0L1063.1 992.0L1063.5 985.5L1064.0 990.2L1064.4 978.6L1064.8 986.5L1065.3 977.4L1065.7 973.1L1066.1 1004.4L1066.6 992.2L1067.0 996.6L1067.4 978.9L1067.9 987.9L1068.3 986.3L1068.8 974.9L1069.2 993.5L1069.6 981.6L1070.1 986.6L1070.5 974.3L1070.9 998.0L1071.4 995.9L1071.8 992.5L1072.2 980.3L1072.7 983.9L1073.1 1000.5L1073.5 986.5L1074.0 991.7L1074.4 990.7L1074.8 978.9L1075.2 1003.9L1075.7 971.0L1076.1 991.9L1076.5 989.1L1077.0 974.8L1077.4 993.2L1077.8 995.1L1078.2 990.8L1078.7 982.7L1079.1 994.8L1079.5 1001.1L1080.0 992.9L1080.4 1007.1L1080.8 999.1L1081.2 998.3L1081.7 1004.3L1082.1 985.1L1082.5 986.6L1082.9 996.4L1083.4 996.6L1083.8 1005.9L1084.2 1002.6L1084.7 993.7L1085.1 994.0L1085.5 989.1L1085.9 988.1L1086.3 987.1L1086.7 999.6L1087.1 986.5L1087.5 987.4L1087.9 992.0L1088.3 985.5L1088.8 988.0L1089.2 969.4L1089.6 993.2L1090.0 986.6L1090.4 991.1L1090.8 992.6L1091.2 971.5L1091.6 1011.4L1092.0 990.1L1092.4 990.2L1092.8 971.8L1093.3 994.7L1093.7 992.9L1094.1 985.9L1094.5 991.8L1095.0 1001.7L1095.4 986.7L1095.8 981.5L1096.3 1002.7L1096.7 992.9L1097.1 988.8L1097.5 1012.3L1098.0 992.3L1098.4 989.3L1098.8 993.5L1099.2 987.4L1099.7 993.3L1100.1 992.8L1100.5 985.3L1101.0 989.1L1101.4 994.6L1101.8 995.3L1102.2 997.3L1102.7 999.3L1103.1 994.4L1103.5 997.0L1104.0 988.7L1104.4 989.8L1104.8 1002.0L1105.3 973.8L1105.7 995.8L1106.1 1022.0L1106.6 974.9L1107.0 1006.4L1107.5 975.8L1107.9 995.7L1108.4 1007.5L1108.8 1006.2L1109.2 983.7L1109.7 980.0L1110.1 978.8L1110.6 999.0L1111.0 988.6L1111.5 992.3L1111.9 994.7L1112.3 996.1L1112.8 997.3L1113.2 993.5L1113.7 977.3L1114.1 1006.0L1114.6 966.6L1115.0 1004.0L1115.4 986.8L1115.9 990.5L1116.3 987.3L1116.7 988.5L1117.1 991.7L1117.6 989.1L1118.0 981.3L1118.4 999.4L1118.8 985.8L1119.2 1003.7L1119.7 989.5L1120.1 984.2L1120.5 994.8L1120.9 998.9L1121.4 981.7L1121.8 987.6L1122.2 1003.5L1122.6 980.5L1123.0 981.8L1123.5 991.2L1123.9 978.1L1124.3 966.2L1124.7 973.5L1125.1 992.6L1125.6 995.1L1126.0 994.3L1126.4 992.3L1126.8 976.9L1127.2 994.7L1127.6 998.6L1128.0 980.7L1128.3 995.7L1128.7 982.9L1129.1 987.7L1129.4 988.9L1129.8 970.9L1130.1 998.4L1130.5 975.9L1130.8 982.6L1131.2 978.4L1131.5 987.0L1131.9 986.3L1132.3 981.9L1132.6 994.7L1133.0 983.4L1133.3 976.5L1133.7 952.4L1134.0 976.7L1134.4 976.3L1134.8 970.5L1135.2 970.3L1135.6 983.8L1136.0 987.8L1136.4 995.7L1136.7 988.2L1137.1 970.2L1137.5 979.1L1137.9 963.3L1138.3 983.0L1138.7 979.2L1139.1 969.6L1139.5 974.1L1139.9 972.4L1140.3 968.4L1140.6 986.9L1141.0 1003.7L1141.4 981.5L1141.8 983.5L1142.2 974.6L1142.6 969.4L1143.0 993.5L1143.4 968.7L1143.8 975.8L1144.2 970.6L1144.6 977.2L1145.0 970.8L1145.4 976.7L1145.8 958.6L1146.2 969.5L1146.6 983.5L1147.0 960.1L1147.4 963.3L1147.8 982.8L1148.2 973.2L1148.6 979.4L1149.0 947.2L1149.4 970.0L1149.8 956.0L1150.2 954.6L1150.6 971.8L1151.0 979.0L1151.4 952.9L1151.8 956.4L1152.2 961.2L1152.6 965.4L1153.0 953.5L1153.4 987.9L1153.8 971.4L1154.2 961.9L1154.6 960.0L1154.9 987.3L1155.3 986.1L1155.7 959.3L1156.1 967.1L1156.5 975.6L1156.9 951.5L1157.2 957.0L1157.6 975.5L1158.0 955.2L1158.4 957.5L1158.8 948.2L1159.2 953.6L1159.5 967.4L1159.9 952.3L1160.3 946.9L1160.7 953.0L1161.0 975.9L1161.3 959.7L1161.7 951.9L1162.0 958.3L1162.3 960.6L1162.7 956.8L1163.0 937.2L1163.3 957.4L1163.7 951.8L1164.0 961.6L1164.3 939.3L1164.7 962.5L1165.0 946.6L1165.3 934.0L1165.7 963.6L1166.0 944.7L1166.3 952.9L1166.7 947.0L1167.0 958.9L1167.4 958.7L1167.7 958.4L1168.1 954.0L1168.5 930.4L1168.9 929.4L1169.2 947.8L1169.6 935.9L1170.0 949.7L1170.4 946.3L1170.7 930.1L1171.1 933.5L1171.5 932.1L1171.9 934.2L1172.2 941.0L1172.7 949.9L1173.1 956.6L1173.5 933.6L1174.0 937.7L1174.4 959.0L1174.8 952.5L1175.3 946.0L1175.7 920.2L1176.1 933.7L1176.6 945.5L1177.0 938.1L1177.4 964.2L1177.8 945.5L1178.2 947.8L1178.6 934.2L1179.0 935.1L1179.4 939.2L1179.7 939.9L1180.1 944.1L1180.5 950.5L1180.9 949.5L1181.3 957.4L1181.7 934.2L1182.1 950.2L1182.4 951.1L1182.7 965.2L1183.0 947.9L1183.4 953.9L1183.7 943.2L1184.0 956.2L1184.3 956.6L1184.6 947.0L1185.0 949.5L1185.3 954.2L1185.6 960.9L1185.9 944.4L1186.3 965.6L1186.6 954.6L1186.9 977.7L1187.2 974.4L1187.5 957.1L1187.8 955.9L1188.1 987.3L1188.4 970.4L1188.7 970.8L1189.0 962.2L1189.3 966.1L1189.6 976.3L1189.9 975.5L1190.2 962.2L1190.5 983.0L1190.8 974.6L1191.1 963.0L1191.4 982.5L1191.8 971.8L1192.1 981.7L1192.4 969.4L1192.7 978.9L1193.0 960.4L1193.4 980.3L1193.7 962.7L1194.0 979.6L1194.3 954.2L1194.7 978.7L1195.0 986.9L1195.3 984.9L1195.7 992.1L1196.0 970.7L1196.4 996.4L1196.8 997.2L1197.2 970.6L1197.5 974.9L1197.9 977.4L1198.3 983.1L1198.7 985.4L1199.0 960.4L1199.4 990.1L1199.8 982.3L1200.2 975.4L1200.5 994.6L1200.9 982.6L1201.3 997.1L1201.7 991.7L1202.0 984.0L1202.4 998.5L1202.8 995.4L1203.2 983.2L1203.6 972.9L1204.0 983.2L1204.4 994.4L1204.8 986.5L1205.2 1005.7L1205.6 991.6L1206.1 991.2L1206.5 993.3L1206.9 981.3L1207.3 988.7L1207.7 983.8L1208.1 968.0L1208.5 973.6L1209.0 997.6L1209.4 986.6L1209.8 989.8L1210.2 977.2L1210.6 985.8L1211.0 998.9L1211.4 992.6L1211.8 987.0L1212.3 1006.3L1212.7 991.2L1213.1 988.3L1213.5 1002.3L1214.0 974.9L1214.4 996.4L1214.8 980.5L1215.2 983.5L1215.6 984.3L1216.1 991.9L1216.5 991.6L1216.9 993.3L1217.3 992.3L1217.8 1003.4L1218.2 1006.0L1218.6 996.6L1219.0 996.9L1219.5 986.1L1219.9 979.1L1220.3 995.0L1220.7 989.6L1221.2 997.2L1221.6 971.7L1222.0 1014.6L1222.4 977.4L1222.8 990.1L1223.2 999.4L1223.6 977.2L1224.0 985.3L1224.4 971.7L1224.8 977.6L1225.2 973.0L1225.6 992.6L1226.0 994.7L1226.4 989.2L1226.8 1004.3L1227.2 1005.8L1227.6 992.9L1228.0 991.1L1228.4 990.9L1228.8 989.5L1229.1 1006.3L1229.5 996.5L1229.9 991.4L1230.3 992.7L1230.7 1000.2L1231.1 991.6L1231.5 998.6L1231.9 995.5L1232.3 1008.9L1232.7 1007.3L1233.1 983.4L1233.5 995.4L1233.9 1003.7L1234.4 992.9L1234.8 1004.8L1235.2 1000.4L1235.7 1002.9L1236.1 996.8L1236.5 1000.3L1237.0 1002.4L1237.4 983.8L1237.9 989.0L1238.3 988.1L1238.7 1013.5L1239.2 1000.6L1239.6 1001.3L1240.0 999.5L1240.5 993.1L1240.9 991.1L1241.4 1006.1L1241.8 994.7L1242.2 1013.0L1242.7 1000.1L1243.1 999.2L1243.5 996.4L1244.0 997.8L1244.4 998.9L1244.9 1012.8L1245.3 1020.5L1245.7 987.9L1246.2 1001.2L1246.6 1005.5L1247.0 990.5L1247.5 993.1L1247.9 994.8L1248.4 976.6L1248.8 1005.2L1249.2 998.8L1249.7 998.4L1250.1 1000.1L1250.6 1001.8L1251.0 1021.1L1251.4 1001.2L1251.9 1007.4L1252.3 994.8L1252.7 1003.0L1253.2 996.9L1253.6 998.5L1254.1 991.5L1254.5 992.4L1254.9 1004.3L1255.4 1007.1L1255.8 1004.5L1256.2 994.0L1256.7 1003.3L1257.1 976.8L1257.6 1009.2L1258.0 1000.2L1258.4 1003.1L1258.9 1011.5L1259.3 996.8L1259.7 1009.7L1260.2 996.8L1260.6 1006.0L1261.1 997.2L1261.5 1003.9L1261.9 1014.6L1262.4 995.1L1262.8 995.7L1263.2 998.6L1263.6 1004.6L1264.0 1027.6L1264.5 996.8L1264.9 983.5L1265.3 996.6L1265.7 988.1L1266.1 997.9L1266.5 1003.4L1266.9 994.6L1267.3 997.4L1267.7 986.6L1268.1 1005.8L1268.5 997.3L1269.0 1014.5L1269.4 1014.4L1269.8 996.9L1270.2 1001.7L1270.6 1005.8L1271.0 1012.5L1271.4 990.3L1271.8 1005.3L1272.2 1023.3L1272.6 1005.5L1273.1 1008.6L1273.5 1006.8L1273.9 996.0L1274.3 1015.9L1274.7 1009.9L1275.1 1009.1L1275.5 1014.5L1275.9 1015.2L1276.3 990.7L1276.7 1012.8L1277.2 1003.3L1277.6 1010.3L1278.0 1002.5L1278.4 1001.4L1278.8 1018.3L1279.2 1009.7L1279.6 1007.4L1280.0 1007.6L1280.4 1011.2L1280.8 1010.6L1281.2 989.2L1281.6 1003.2L1282.0 1009.3L1282.4 1018.5L1282.8 1024.4L1283.2 1003.6L1283.6 1030.1L1284.0 1013.5L1284.4 1017.4L1284.8 1008.2L1285.3 1007.8L1285.7 1026.7L1286.1 1011.8L1286.5 1013.1L1286.9 1024.9L1287.3 1030.3L1287.7 1001.1L1288.1 1013.3L1288.5 1015.2L1288.9 1032.1L1289.3 1038.2L1289.7 1014.9L1290.1 1018.5L1290.5 1022.7L1290.9 1025.0L1291.3 1011.3L1291.7 1021.8L1292.1 1007.2L1292.5 988.9L1292.9 1000.4L1293.2 1014.7L1293.6 1019.6L1294.0 991.5L1294.4 995.3L1294.8 1011.3L1295.2 980.3L1295.6 1016.1L1296.0 1020.2L1296.3 983.0L1296.7 1017.2L1297.1 1008.1L1297.5 1022.6L1297.9 1011.9L1298.3 1006.8L1298.7 1009.8L1299.1 1017.1L1299.5 1009.9L1299.8 1008.2L1300.2 994.2L1300.6 1011.7L1301.0 1007.2L1301.4 1023.6L1301.8 1006.2L1302.2 1005.5L1302.6 1000.5L1303.1 1013.0L1303.5 1004.5L1303.9 999.9L1304.4 1021.3L1304.8 1023.0L1305.3 1002.4L1305.7 997.1L1306.2 1017.1L1306.6 998.9L1307.1 1032.8L1307.5 1005.5L1307.9 1015.7L1308.4 994.8L1308.8 1006.5L1309.3 1017.0L1309.7 1011.0L1310.2 1002.0L1310.6 1029.7L1311.0 1013.9L1311.5 1004.9L1311.9 1001.5L1312.4 1004.6L1312.8 1019.7L1313.3 1000.1L1313.7 1007.5L1314.2 999.7L1314.6 1018.9L1315.0 1005.8L1315.5 1015.3L1315.9 1012.6L1316.4 1002.0L1316.8 1013.9L1317.3 1016.1L1317.7 996.7L1318.1 1013.8L1318.6 1040.2L1319.0 1004.5L1319.5 1013.1L1319.9 994.8L1320.4 1011.4L1320.8 1001.7L1321.3 1014.2L1321.7 1006.6L1322.1 996.1L1322.6 1017.2L1323.0 1005.0L1323.5 997.5L1323.9 1007.5L1324.4 997.9L1324.8 1010.5L1325.3 1006.2L1325.7 1003.3L1326.1 1012.9L1326.6 994.9L1327.0 1015.7L1327.5 988.0L1327.9 1021.6L1328.4 1008.3L1328.8 1004.1L1329.2 999.7L1329.7 1011.6L1330.1 1005.0L1330.6 1004.8L1331.0 1016.1L1331.5 1002.5L1331.9 1004.3L1332.4 1010.6L1332.8 1016.6L1333.2 1005.2L1333.7 1008.1L1334.1 1007.1L1334.6 1013.6L1335.0 1020.6L1335.5 998.1L1335.9 1005.6L1336.3 1006.4L1336.8 1012.4L1337.2 1020.9L1337.7 1006.8L1338.1 1008.9L1338.6 1017.5L1339.0 995.4L1339.5 999.9L1339.9 1002.9L1340.3 1007.0L1340.8 1009.3L1341.2 1002.3L1341.7 1023.5L1342.1 1000.6L1342.6 1005.4L1343.0 1017.4L1343.4 1014.5L1343.9 1007.2L1344.3 1010.9L1344.8 1015.0L1345.2 1007.2L1345.6 1013.2L1346.0 998.4L1346.5 1007.4L1346.9 991.2L1347.3 997.9L1347.7 995.4L1348.1 1017.6L1348.5 1001.3L1348.9 1008.2L1349.3 996.6L1349.7 1003.1L1350.1 1002.2L1350.6 996.6L1351.0 1012.4L1351.4 988.6L1351.8 1009.8L1352.2 1028.7L1352.6 995.8L1353.0 1003.6L1353.4 988.5L1353.8 1002.6L1354.2 986.3L1354.6 1008.3L1355.1 997.6L1355.5 984.6L1355.9 989.5L1356.3 986.5L1356.7 998.6L1357.1 1009.1L1357.5 997.1L1357.9 989.5L1358.3 992.5L1358.7 1001.2L1359.2 976.9L1359.6 1005.2L1360.0 1003.2L1360.4 975.8L1360.8 1009.9L1361.2 982.9L1361.6 996.1L1362.0 1009.0L1362.3 982.0L1362.7 979.7L1363.1 986.3L1363.5 986.4L1363.9 995.1L1364.3 991.1L1364.7 991.1L1365.1 991.0L1365.5 993.6L1365.9 986.9L1366.3 997.9L1366.7 994.5L1367.1 984.5L1367.5 1011.4L1367.9 981.6L1368.3 1000.5L1368.7 986.6L1369.1 997.6L1369.4 999.6L1369.8 1003.3L1370.2 1009.1L1370.5 988.0L1370.9 1023.7L1371.2 1000.7L1371.6 989.6L1372.0 984.9L1372.3 1020.5L1372.7 1014.3L1373.1 999.0L1373.4 1006.8L1373.8 1012.5L1374.2 1001.4L1374.5 996.9L1374.9 1001.1L1375.2 1009.8L1375.6 1002.5L1376.0 991.1L1376.3 1010.3L1376.7 987.3L1377.1 996.9L1377.4 1016.1L1377.8 1007.1L1378.2 1007.5L1378.5 1006.8L1378.9 1015.9L1379.2 1006.1L1379.6 988.7L1380.0 1009.8L1380.3 979.1L1380.7 989.1L1381.1 1023.6L1381.5 1018.6L1381.9 1004.6L1382.3 1008.3L1382.8 1010.0L1383.2 1018.7L1383.6 1002.1L1384.0 1001.2L1384.5 1003.7L1384.9 1011.0L1385.3 1012.3L1385.7 1006.3L1386.2 1017.2L1386.6 1000.6L1387.0 1009.6L1387.5 1004.0L1387.9 1001.1L1388.3 1022.2L1388.7 1007.8L1389.2 1001.5L1389.6 1011.4L1390.0 1001.8L1390.4 1016.9L1390.9 1019.3L1391.3 1021.1L1391.7 1001.7L1392.1 1010.4L1392.6 1029.1L1393.0 1010.0L1393.4 1023.9L1393.8 1026.5L1394.3 999.5L1394.7 1023.8L1395.1 1019.6L1395.6 1020.9L1396.0 1028.6L1396.4 1017.2L1396.8 1013.7L1397.3 1018.8L1397.7 1010.0L1398.1 1017.9L1398.6 994.6L1399.0 1029.6L1399.4 1008.6L1399.9 1018.7L1400.3 1016.6L1400.7 1014.8L1401.2 1014.9L1401.6 1014.6L1402.0 998.8L1402.5 1009.1L1402.9 1025.4L1403.3 1004.8L1403.8 1004.6L1404.2 1034.2L1404.6 1025.8L1405.1 1029.2L1405.5 1014.6L1405.9 1017.4L1406.4 1022.0L1406.8 1020.3L1407.2 1014.3L1407.6 1001.6L1408.1 1008.5L1408.5 1001.3L1408.9 1030.1L1409.4 1011.8L1409.8 1013.9L1410.2 1018.5L1410.6 1016.3L1411.0 1021.3L1411.4 1010.9L1411.8 1002.9L1412.2 1033.5L1412.6 1011.0L1413.0 1013.5L1413.3 1010.8L1413.7 1013.4L1414.1 1018.9L1414.5 1025.9L1414.9 1009.6L1415.3 1022.3L1415.7 1013.7L1416.1 1031.2L1416.5 1009.1L1416.9 1021.7L1417.2 1027.6L1417.6 1008.8L1418.0 1022.6L1418.4 1023.2L1418.8 1014.9L1419.2 1020.5L1419.6 1031.8L1420.0 1025.3L1420.4 1019.6L1420.8 1021.7L1421.1 1028.0L1421.5 1035.8L1421.9 1031.7L1422.3 1031.4L1422.7 1039.3L1423.1 1011.3L1423.5 1012.6L1423.9 1005.3L1424.3 1033.8L1424.7 1005.7L1425.1 1026.3L1425.5 1033.8L1425.9 1014.6L1426.3 1021.5L1426.7 1025.3L1427.1 1034.5L1427.5 1014.5L1427.9 1031.3L1428.3 1034.9L1428.7 1030.2L1429.1 1030.6L1429.5 1040.6L1429.9 1031.6L1430.3 1029.7L1430.7 1027.1L1431.1 1036.2L1431.5 1028.0L1431.9 1036.7L1432.3 1032.0L1432.7 1041.5L1433.1 1024.6L1433.5 1032.6L1433.9 1035.3L1434.3 1036.1L1434.7 1042.7L1435.1 1036.4L1435.5 1041.2L1435.9 1050.9L1436.3 1041.1L1436.7 1024.5L1437.1 1021.4L1437.5 1040.3L1437.9 1031.3L1438.3 1037.5L1438.7 1033.5L1439.1 1046.7L1439.5 1045.8L1440.0 1025.1L1440.4 1037.6L1440.9 1032.5L1441.3 1023.6L1441.8 1041.0L1442.2 1034.0L1442.7 1039.2L1443.1 1057.3L1443.5 1047.2L1444.0 1045.2L1444.4 1031.8L1444.9 1025.0L1445.3 1046.6L1445.8 1032.8L1446.2 1036.0L1446.7 1032.3L1447.1 1036.5L1447.5 1057.0L1448.0 1032.9L1448.4 1033.2L1448.9 1037.5L1449.3 1038.3L1449.8 1025.1L1450.2 1020.1L1450.6 1030.7L1451.1 1034.0L1451.5 1028.9L1452.0 1027.0L1452.4 1027.6L1452.9 1032.4L1453.3 1035.0L1453.7 1021.8L1454.1 1031.5L1454.6 1039.6L1455.0 1035.5L1455.4 1024.8L1455.8 1033.8L1456.2 1036.9L1456.6 1044.1L1457.1 1023.1L1457.5 1043.6L1457.9 1033.7L1458.3 1039.7L1458.7 1044.1L1459.1 1030.6L1459.6 1031.3L1460.0 1037.5L1460.4 1045.1L1460.8 1034.1L1461.2 1026.6L1461.6 1033.1L1462.1 1042.7L1462.5 1049.7L1462.9 1035.2L1463.3 1037.0L1463.7 1038.4L1464.1 1038.9L1464.6 1032.0L1465.0 1036.6L1465.4 1042.5L1465.8 1041.6L1466.2 1041.0L1466.7 1032.1L1467.1 1036.2L1467.5 1034.9L1468.0 1050.4L1468.4 1054.0L1468.8 1044.4L1469.3 1055.4L1469.7 1039.1L1470.1 1039.2L1470.5 1030.5L1471.0 1044.0L1471.4 1038.1L1471.8 1043.0L1472.3 1046.5L1472.7 1040.3L1473.1 1032.7L1473.5 1042.2L1474.0 1042.1L1474.4 1043.1L1474.8 1048.8L1475.3 1041.2L1475.7 1040.8L1476.1 1058.3L1476.5 1052.7L1477.0 1042.7L1477.4 1035.5L1477.8 1039.8L1478.3 1047.0L1478.7 1051.0L1479.1 1064.5L1479.6 1041.4L1480.0 1044.9L1480.5 1040.4L1480.9 1044.1L1481.3 1040.1L1481.8 1034.1L1482.2 1052.2L1482.6 1044.4L1483.1 1054.3L1483.5 1038.8L1484.0 1045.4L1484.4 1048.7L1484.8 1026.7L1485.3 1031.5L1485.7 1049.4L1486.1 1043.7L1486.6 1026.9L1487.0 1036.4L1487.5 1033.6L1487.9 1038.5L1488.3 1056.0L1488.8 1037.6L1489.2 1060.1L1489.7 1040.3L1490.1 1036.0L1490.5 1055.9L1491.0 1050.5L1491.4 1054.2L1491.8 1059.1L1492.3 1051.4L1492.7 1052.8L1493.2 1027.4L1493.6 1035.2L1494.0 1046.3L1494.5 1044.3L1494.9 1048.8L1495.3 1038.5L1495.8 1052.4L1496.2 1060.3L1496.7 1048.0L1497.1 1050.2L1497.5 1047.5L1498.0 1051.2L1498.4 1045.1L1498.8 1038.9L1499.3 1045.1L1499.7 1044.4L1500.2 1030.3L1500.6 1045.6L1501.0 1043.9L1501.5 1045.5L1501.9 1039.0L1502.3 1048.0L1502.8 1049.3L1503.2 1037.8L1503.7 1046.8L1504.1 1050.8L1504.5 1050.5L1505.0 1036.2L1505.4 1035.3L1505.8 1044.4L1506.3 1035.2L1506.7 1065.9L1507.2 1037.4L1507.6 1037.6L1508.0 1050.1L1508.4 1040.6L1508.9 1024.5L1509.3 1043.6L1509.7 1036.4L1510.1 1040.5L1510.6 1031.1L1511.0 1037.3L1511.4 1043.8L1511.8 1044.6L1512.3 1035.8L1512.7 1039.3L1513.1 1038.2L1513.6 1046.8L1514.0 1044.4L1514.4 1035.0L1514.8 1051.4L1515.3 1040.0L1515.7 1049.4L1516.1 1038.3L1516.5 1048.8L1517.0 1045.4L1517.4 1047.0L1517.8 1051.3L1518.2 1051.2L1518.5 1049.3L1518.9 1049.8L1519.2 1038.0L1519.6 1048.8L1519.9 1031.1L1520.3 1031.2L1520.6 1048.2L1521.0 1049.4L1521.3 1064.6L1521.7 1058.0L1522.0 1062.2L1522.4 1050.7L1522.7 1057.6L1523.1 1064.2L1523.4 1059.3L1523.8 1058.3L1524.2 1056.7L1524.5 1048.6L1524.9 1049.3L1525.2 1045.2L1525.6 1061.3L1525.9 1056.1L1526.3 1053.2L1526.6 1062.4L1527.0 1055.0L1527.3 1069.2L1527.7 1076.9L1528.0 1065.2L1528.4 1055.9L1528.8 1048.9L1529.2 1078.2L1529.6 1064.9L1530.0 1051.0L1530.4 1069.7L1530.8 1046.4L1531.2 1056.5L1531.6 1058.0L1532.0 1056.7L1532.4 1049.9L1532.8 1079.5L1533.2 1055.7L1533.6 1062.1L1534.0 1058.9L1534.5 1044.9L1534.9 1053.5L1535.3 1059.7L1535.7 1065.6L1536.1 1054.6L1536.5 1060.4L1536.9 1054.2L1537.3 1061.9L1537.7 1035.6L1538.1 1061.5L1538.5 1050.9L1538.9 1051.0L1539.3 1031.5L1539.7 1046.5L1540.1 1060.5L1540.5 1074.8L1540.9 1048.9L1541.4 1049.5L1541.8 1059.6L1542.2 1058.1L1542.6 1050.8L1543.0 1054.6L1543.4 1053.0L1543.8 1061.8L1544.2 1063.5L1544.6 1072.0L1545.0 1065.0L1545.4 1063.1L1545.8 1059.0L1546.2 1065.9L1546.6 1049.8L1547.1 1076.7L1547.5 1061.0L1547.9 1070.8L1548.3 1052.3L1548.7 1068.0L1549.1 1062.9L1549.5 1058.2L1549.9 1054.3L1550.3 1052.7L1550.7 1075.7L1551.1 1071.0L1551.5 1061.9L1551.9 1062.8L1552.3 1055.2L1552.7 1046.0L1553.1 1046.6L1553.5 1056.9L1553.9 1060.9L1554.4 1052.5L1554.8 1069.4L1555.2 1067.2L1555.6 1064.4L1556.0 1048.3L1556.4 1061.6L1556.8 1063.4L1557.2 1053.1L1557.6 1045.5L1558.0 1080.4L1558.5 1069.7L1558.9 1061.3L1559.3 1078.3L1559.7 1074.4L1560.1 1069.0L1560.5 1067.3L1560.9 1072.2L1561.3 1078.2L1561.7 1066.6L1562.1 1064.2L1562.6 1071.3L1563.0 1042.8L1563.4 1067.5L1563.8 1063.6L1564.2 1067.0L1564.6 1065.8L1565.0 1070.4L1565.4 1068.7L1565.8 1068.6L1566.2 1067.1L1566.7 1072.2L1567.1 1064.3L1567.5 1077.1L1567.9 1054.8L1568.3 1070.8L1568.7 1073.0L1569.1 1058.6L1569.6 1065.8L1570.0 1080.7L1570.4 1068.6L1570.9 1062.4L1571.3 1044.9L1571.7 1072.9L1572.1 1071.0L1572.6 1075.4L1573.0 1087.6L1573.4 1070.5L1573.8 1071.8L1574.3 1065.0L1574.7 1070.4L1575.1 1070.8L1575.5 1077.5L1576.0 1075.9L1576.4 1065.0L1576.8 1067.5L1577.2 1083.2L1577.7 1063.7L1578.1 1078.1L1578.5 1085.6L1579.0 1077.6L1579.4 1074.3L1579.8 1083.8L1580.2 1075.4L1580.7 1072.5L1581.1 1071.0L1581.5 1082.4L1581.9 1078.7L1582.4 1086.0L1582.8 1070.3L1583.2 1070.6L1583.7 1069.7L1584.1 1075.7L1584.5 1067.7L1585.0 1081.3L1585.4 1076.5L1585.8 1065.5L1586.2 1049.1L1586.7 1058.7L1587.1 1086.0L1587.5 1073.6L1588.0 1075.4L1588.4 1070.7L1588.8 1077.7L1589.3 1058.4L1589.7 1057.8L1590.1 1061.0L1590.6 1075.3L1591.0 1080.7L1591.4 1078.9L1591.9 1073.9L1592.3 1064.4L1592.7 1081.8L1593.2 1072.9L1593.6 1075.2L1594.0 1074.8L1594.5 1071.6L1594.9 1069.6L1595.3 1070.8L1595.8 1065.0L1596.2 1077.9L1596.6 1074.5L1597.0 1084.6L1597.5 1061.1L1597.9 1086.1L1598.3 1075.8L1598.7 1075.2L1599.2 1070.0L1599.6 1070.0L1600.0 1064.5L1600.5 1084.5L1600.9 1075.4L1601.3 1083.2L1601.7 1084.3L1602.2 1073.4L1602.6 1075.6L1603.0 1074.9L1603.4 1086.4L1603.9 1079.1L1604.3 1079.5L1604.7 1084.2L1605.1 1077.7L1605.6 1095.4L1606.0 1070.9L1606.4 1089.1L1606.8 1090.5L1607.3 1069.5L1607.7 1086.2L1608.1 1081.5L1608.6 1086.5L1609.0 1069.5L1609.4 1081.6L1609.8 1071.6L1610.3 1077.0L1610.7 1091.7L1611.1 1078.9L1611.6 1061.3L1612.0 1068.3L1612.4 1070.4L1612.9 1088.1L1613.3 1073.9L1613.7 1066.7L1614.2 1088.8L1614.6 1081.6L1615.1 1082.3L1615.5 1072.8L1615.9 1091.1L1616.4 1078.2L1616.8 1062.8L1617.2 1069.7L1617.7 1072.1L1618.1 1077.7L1618.6 1085.3L1619.0 1072.9L1619.4 1073.8L1619.9 1097.0L1620.3 1079.4L1620.7 1074.3L1621.2 1078.9L1621.6 1068.1L1622.1 1082.9L1622.5 1086.4L1622.9 1073.5L1623.4 1086.6L1623.8 1075.8L1624.2 1080.6L1624.7 1071.9L1625.1 1071.4L1625.6 1065.5L1626.0 1079.7L1626.4 1075.4L1626.8 1075.5L1627.3 1068.1L1627.7 1067.7L1628.1 1072.0L1628.5 1081.0L1629.0 1079.5L1629.4 1071.2L1629.8 1079.2L1630.3 1091.3L1630.7 1077.4L1631.1 1093.2L1631.5 1079.9L1632.0 1087.3L1632.4 1071.7L1632.8 1085.7L1633.2 1066.0L1633.7 1077.7L1634.1 1072.8L1634.5 1058.8L1634.9 1064.0L1635.4 1084.7L1635.8 1079.2L1636.2 1085.8L1636.6 1076.5L1637.1 1050.5L1637.5 1076.7L1637.9 1069.8L1638.4 1070.2L1638.8 1070.5L1639.2 1067.7L1639.6 1066.0L1640.1 1084.4L1640.5 1077.9L1640.9 1068.8L1641.3 1070.9L1641.8 1082.6L1642.2 1077.8L1642.6 1076.4L1643.0 1064.6L1643.5 1071.4L1643.9 1065.6L1644.3 1059.2L1644.7 1082.8L1645.2 1072.7L1645.6 1072.1L1646.0 1067.7L1646.5 1082.1L1646.9 1093.3L1647.3 1080.9L1647.7 1083.9L1648.2 1065.9L1648.6 1077.8L1649.0 1078.3L1649.4 1089.0L1649.9 1076.8L1650.3 1069.0L1650.7 1076.4L1651.1 1073.5L1651.6 1089.2L1652.0 1082.8L1652.4 1080.3L1652.8 1079.0L1653.3 1084.7L1653.7 1073.7L1654.1 1070.3L1654.6 1062.2L1655.0 1087.7L1655.4 1081.9L1655.9 1083.0L1656.3 1078.0L1656.7 1091.4L1657.2 1069.3L1657.6 1087.4L1658.1 1070.3L1658.5 1073.5L1658.9 1067.1L1659.4 1077.9L1659.8 1074.7L1660.2 1080.6L1660.7 1072.1L1661.1 1065.3L1661.6 1081.5L1662.0 1087.5L1662.4 1082.8L1662.9 1076.2L1663.3 1079.9L1663.7 1062.4L1664.2 1073.6L1664.6 1086.0L1665.1 1080.1L1665.5 1069.1L1665.9 1083.3L1666.4 1075.0L1666.8 1082.1L1667.2 1064.3L1667.7 1071.5L1668.1 1078.6L1668.6 1078.3L1669.0 1080.5L1669.4 1076.0L1669.8 1074.5L1670.3 1080.2L1670.7 1083.6L1671.1 1063.9L1671.5 1074.0L1672.0 1075.1L1672.4 1078.2L1672.8 1085.4L1673.3 1066.1L1673.7 1081.7L1674.1 1063.0L1674.5 1071.2L1675.0 1073.3L1675.4 1075.5L1675.8 1072.8L1676.2 1073.7L1676.7 1075.2L1677.1 1075.9L1677.5 1063.0L1677.9 1066.8L1678.4 1074.9L1678.8 1083.0L1679.2 1087.1L1679.6 1102.5L1680.1 1079.9L1680.5 1072.6L1680.9 1080.7L1681.4 1085.0L1681.8 1080.6L1682.2 1070.9L1682.6 1078.9L1683.0 1079.5" fill="none" stroke="#000" stroke-width="3" stroke-linejoin="round" shape-rendering="crispEdges"/>
<rect x="200.5" y="37.5" width="1570" height="1247" fill="none" stroke="#000" stroke-width="3"/>
<line x1="200.5" y1="1284" x2="200.5" y2="1300" stroke="#000" stroke-width="3"/>
<line x1="288.5" y1="1284" x2="288.5" y2="1316" stroke="#000" stroke-width="3"/>
<line x1="375.5" y1="1284" x2="375.5" y2="1300" stroke="#000" stroke-width="3"/>
<line x1="462.5" y1="1284" x2="462.5" y2="1316" stroke="#000" stroke-width="3"/>
<line x1="549.5" y1="1284" x2="549.5" y2="1300" stroke="#000" stroke-width="3"/>
<line x1="636.5" y1="1284" x2="636.5" y2="1316" stroke="#000" stroke-width="3"/>
<line x1="724.5" y1="1284" x2="724.5" y2="1300" stroke="#000" stroke-width="3"/>
<line x1="811.5" y1="1284" x2="811.5" y2="1316" stroke="#000" stroke-width="3"/>
<line x1="898.5" y1="1284" x2="898.5" y2="1300" stroke="#000" stroke-width="3"/>
<line x1="985.5" y1="1284" x2="985.5" y2="1316" stroke="#000" stroke-width="3"/>
<line x1="1072.5" y1="1284" x2="1072.5" y2="1300" stroke="#000" stroke-width="3"/>
<line x1="1159.5" y1="1284" x2="1159.5" y2="1316" stroke="#000" stroke-width="3"/>
<line x1="1246.5" y1="1284" x2="1246.5" y2="1300" stroke="#000" stroke-width="3"/>
<line x1="1334.5" y1="1284" x2="1334.5" y2="1316" stroke="#000" stroke-width="3"/>
<line x1="1421.5" y1="1284" x2="1421.5" y2="1300" stroke="#000" stroke-width="3"/>
<line x1="1508.5" y1="1284" x2="1508.5" y2="1316" stroke="#000" stroke-width="3"/>
<line x1="1595.5" y1="1284" x2="1595.5" y2="1300" stroke="#000" stroke-width="3"/>
<line x1="1682.5" y1="1284" x2="1682.5" y2="1316" stroke="#000" stroke-width="3"/>
<line x1="1770.5" y1="1284" x2="1770.5" y2="1300" stroke="#000" stroke-width="3"/>
<line x1="1109" y1="87" x2="1256" y2="87" stroke="#000" stroke-width="4"/>
<line x1="1109" y1="181.5" x2="1256" y2="181.5" stroke="#ff0000" stroke-width="3"/>
<defs><filter id="bin" filterUnits="userSpaceOnUse" x="0" y="0" width="1814" height="1558"><feComponentTransfer><feFuncA type="discrete" tableValues="0 1"/></feComponentTransfer></filter></defs>
<g filter="url(#bin)">
<text x="290.00" y="1407" font-family="Liberation Serif, serif" font-size="91.5" text-anchor="middle" textLength="90.10" lengthAdjust="spacing">10</text>
<text x="461.25" y="1407" font-family="Liberation Serif, serif" font-size="91.5" text-anchor="middle" textLength="93.90" lengthAdjust="spacing">20</text>
<text x="636.10" y="1407" font-family="Liberation Serif, serif" font-size="91.5" text-anchor="middle" textLength="95.10" lengthAdjust="spacing">30</text>
<text x="810.75" y="1407" font-family="Liberation Serif, serif" font-size="91.5" text-anchor="middle" textLength="94.10" lengthAdjust="spacing">40</text>
<text x="986.10" y="1407" font-family="Liberation Serif, serif" font-size="91.5" text-anchor="middle" textLength="92.90" lengthAdjust="spacing">50</text>
<text x="1159.95" y="1407" font-family="Liberation Serif, serif" font-size="91.5" text-anchor="middle" textLength="93.50" lengthAdjust="spacing">60</text>
<text x="1333.50" y="1407" font-family="Liberation Serif, serif" font-size="91.5" text-anchor="middle" textLength="94.90" lengthAdjust="spacing">70</text>
<text x="1509.85" y="1407" font-family="Liberation Serif, serif" font-size="91.5" text-anchor="middle" textLength="90.70" lengthAdjust="spacing">80</text>
<text x="1682.60" y="1407" font-family="Liberation Serif, serif" font-size="91.5" text-anchor="middle" textLength="93.30" lengthAdjust="spacing">90</text>
<text x="813.60" y="1505" font-family="Liberation Serif, serif" font-size="91.5" textLength="339.75" lengthAdjust="spacing">2Theta, °</text>
<text transform="translate(113.5 915.40) rotate(-90)" font-family="Liberation Serif, serif" font-size="96" textLength="508.77" lengthAdjust="spacing">Intensity, a.u.</text>
<text x="379.0" y="94" font-family="Liberation Serif, serif" font-size="62.5" textLength="564.86" lengthAdjust="spacing">Nickel silicate hydrate</text>
<text x="376.8" y="176" font-family="Liberation Serif, serif" font-size="62.5" textLength="66.10" lengthAdjust="spacing">Ni</text>
<text x="377.6" y="256.7" font-family="Liberation Serif, serif" font-size="62.5" textLength="112.50" lengthAdjust="spacing">NiO</text>
<text x="378.0" y="339.2" font-family="Liberation Serif, serif" font-size="62.5" textLength="98.20" lengthAdjust="spacing">SiO</text>
<text x="476.2" y="357.5" font-family="Liberation Serif, serif" font-size="42.5">2</text>
<text x="1270.2" y="107.4" font-family="Liberation Serif, serif" font-size="64" textLength="463.81" lengthAdjust="spacing">Calcinated Ni/SiO</text>
<text x="1733.6" y="126.2" font-family="Liberation Serif, serif" font-size="42.5">2</text>
<text x="1270.0" y="202.5" font-family="Liberation Serif, serif" font-size="64" textLength="416.85" lengthAdjust="spacing">Reduced Ni/SiO</text>
<text x="1687.2" y="220.3" font-family="Liberation Serif, serif" font-size="42.5">2</text>
<text transform="translate(358.50 94.34) scale(1.107 1)" font-family="Liberation Serif, serif" font-size="55.87" text-anchor="middle">♦</text>
<text transform="translate(358.40 176.10) scale(1.021 1)" font-family="Liberation Serif, serif" font-size="57.48" text-anchor="middle">♣</text>
<text transform="translate(358.30 257.51) scale(1.090 1)" font-family="Liberation Serif, serif" font-size="58.41" text-anchor="middle">♥</text>
<text transform="translate(349.50 334.97) scale(1.000 1)" font-family="Liberation Serif, serif" font-size="48.84" text-anchor="middle">●</text>
<text transform="translate(485.50 423.50) scale(1.000 1)" font-family="Liberation Serif, serif" font-size="50.00" text-anchor="middle">●</text>
<text transform="translate(765.50 322.75) scale(1.132 1)" font-family="Liberation Serif, serif" font-size="49.56" text-anchor="middle">♥</text>
<text transform="translate(869.50 325.65) scale(1.132 1)" font-family="Liberation Serif, serif" font-size="49.56" text-anchor="middle">♥</text>
<text transform="translate(1210.50 320.65) scale(1.132 1)" font-family="Liberation Serif, serif" font-size="49.56" text-anchor="middle">♥</text>
<text transform="translate(893.50 443.00) scale(1.060 1)" font-family="Liberation Serif, serif" font-size="49.08" text-anchor="middle">♣</text>
<text transform="translate(1016.50 443.00) scale(1.060 1)" font-family="Liberation Serif, serif" font-size="49.08" text-anchor="middle">♣</text>
<text transform="translate(1441.50 443.00) scale(1.060 1)" font-family="Liberation Serif, serif" font-size="49.08" text-anchor="middle">♣</text>
<text transform="translate(715.00 447.60) scale(1.009 1)" font-family="Liberation Serif, serif" font-size="50.25" text-anchor="middle">♦</text>
<text transform="translate(737.85 446.60) scale(1.009 1)" font-family="Liberation Serif, serif" font-size="50.25" text-anchor="middle">♦</text>
<text transform="translate(1176.50 444.65) scale(1.062 1)" font-family="Liberation Serif, serif" font-size="50.08" text-anchor="middle">♦</text>
</g>
</svg>
</body></html>
